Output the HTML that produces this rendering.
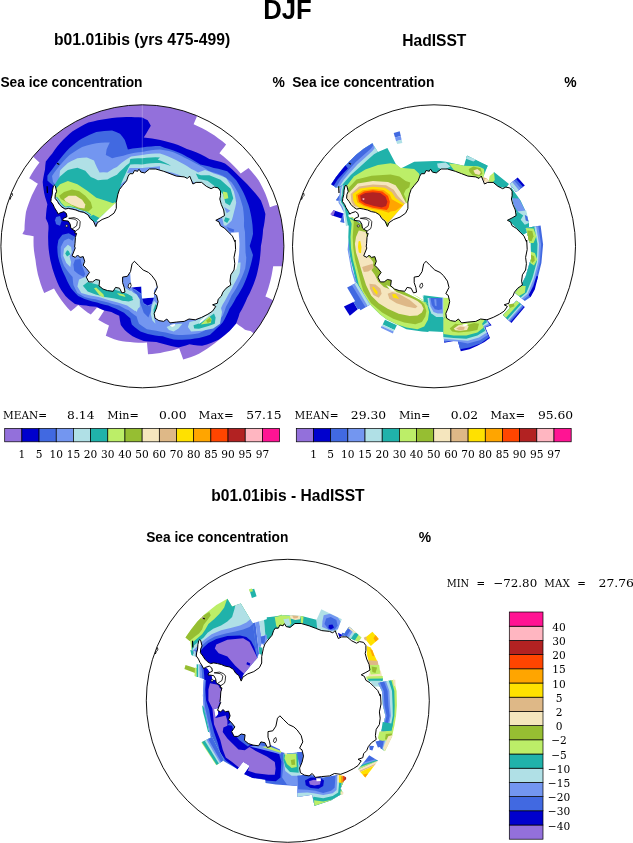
<!DOCTYPE html>
<html lang="en"><head><meta charset="utf-8"><title>DJF sea ice concentration</title>
<style>
html,body{margin:0;padding:0;background:#fff}
svg{display:block;will-change:transform}
text{fill:#000}
</style></head>
<body>
<svg width="633" height="843" viewBox="0 0 633 843">
<rect width="633" height="843" fill="#fff"/>
<clipPath id="clip0"><circle cx="142.4" cy="246.3" r="141.5"/></clipPath>
<clipPath id="clip1"><circle cx="434.0" cy="246.3" r="141.5"/></clipPath>
<clipPath id="clip2"><circle cx="287.8" cy="700.8" r="141.5"/></clipPath>
<g clip-path="url(#clip0)">
<path d="M34.0 157.6 L30.4 154.7 L26.9 151.8 L23.3 148.9 L19.7 145.9 L22.5 142.7 L25.3 139.5 L28.2 136.4 L31.2 133.4 L34.2 130.5 L37.3 127.6 L40.6 124.9 L43.8 122.2 L47.2 119.6 L50.6 117.1 L54.1 114.7 L57.6 112.4 L61.2 110.2 L64.9 108.1 L68.6 106.0 L72.4 104.1 L76.2 102.3 L80.1 100.6 L84.0 99.0 L88.0 97.5 L92.0 96.1 L96.0 94.8 L100.1 93.6 L104.2 92.5 L108.3 91.5 L112.4 90.7 L116.6 89.9 L120.8 89.3 L125.0 88.8 L129.2 88.4 L133.4 88.1 L137.7 87.9 L141.9 87.8 L146.1 87.9 L150.4 88.0 L154.6 88.3 L158.8 88.7 L163.0 89.2 L167.2 89.8 L171.4 90.5 L175.5 91.3 L179.7 92.3 L183.8 93.3 L187.8 94.5 L191.9 95.7 L195.9 97.1 L199.8 98.6 L203.8 100.2 L202.1 104.2 L200.4 108.2 L198.7 112.3 L197.0 116.3 L195.3 120.2 L193.6 124.2 L197.9 126.2 L202.2 128.3 L206.4 130.6 L210.5 133.0 L214.6 135.6 L218.5 138.4 L222.4 141.3 L226.1 144.4 L223.9 147.4 L221.6 150.3 L219.4 153.3 L223.3 156.3 L227.0 159.4 L230.6 162.7 L234.1 166.2 L237.5 169.8 L240.7 173.5 L244.6 170.7 L248.5 167.9 L251.2 170.9 L253.7 173.9 L256.2 177.1 L258.6 180.3 L260.4 183.6 L262.2 186.9 L263.8 190.3 L265.4 193.7 L267.1 198.2 L268.6 202.7 L269.9 207.2 L273.3 206.1 L276.6 205.0 L280.9 203.7 L285.2 202.3 L289.6 201.0 L293.9 199.7 L295.3 204.5 L296.5 209.3 L297.6 214.2 L298.5 219.1 L299.3 224.0 L299.9 229.0 L300.4 234.0 L300.7 238.9 L300.9 243.9 L300.9 248.9 L300.7 253.9 L300.4 258.9 L299.9 263.9 L299.3 268.8 L294.7 268.2 L290.1 267.5 L285.6 266.9 L281.0 266.2 L277.1 266.2 L273.2 266.2 L272.5 270.6 L271.7 275.0 L270.7 279.4 L269.6 283.7 L268.4 288.0 L267.0 292.3 L265.4 296.5 L268.8 298.1 L272.1 299.8 L276.3 301.5 L280.5 303.3 L284.7 305.0 L288.9 306.7 L287.2 310.7 L285.4 314.6 L283.5 318.5 L281.5 322.3 L279.3 326.1 L277.1 329.8 L274.8 333.4 L272.3 337.0 L269.8 340.5 L267.2 344.0 L263.9 341.4 L260.5 338.7 L257.2 336.1 L253.8 333.5 L250.5 330.9 L247.7 330.4 L245.0 329.8 L242.1 327.6 L239.1 325.4 L236.2 323.2 L234.0 325.8 L231.8 328.4 L229.5 330.9 L226.0 334.2 L222.3 337.3 L218.5 340.3 L214.8 343.3 L211.0 346.1 L207.1 348.8 L203.1 351.3 L199.0 353.7 L195.1 355.4 L191.2 356.9 L187.2 358.3 L183.2 359.5 L181.9 355.7 L180.5 352.0 L179.2 348.2 L175.5 349.4 L171.8 350.4 L168.0 351.3 L164.2 352.1 L160.2 352.9 L156.1 353.5 L152.1 354.0 L148.0 354.3 L147.7 350.4 L147.3 346.5 L147.0 342.6 L142.7 342.8 L138.5 342.7 L134.2 342.5 L130.0 342.1 L126.2 341.8 L122.3 341.3 L118.5 340.6 L114.2 339.2 L109.9 337.6 L105.8 335.8 L106.8 332.4 L107.9 329.0 L109.0 325.6 L105.3 323.8 L101.7 321.8 L98.2 319.7 L100.2 316.7 L102.3 313.6 L104.3 310.6 L100.7 309.1 L97.1 307.4 L94.0 311.0 L90.8 314.5 L87.5 312.4 L84.3 310.1 L81.2 307.6 L78.2 305.0 L74.5 308.2 L70.8 311.3 L67.6 307.9 L64.5 304.3 L61.6 300.5 L58.9 296.6 L56.3 292.6 L54.0 288.4 L50.7 289.9 L47.5 291.4 L44.2 292.9 L42.3 288.4 L40.6 283.8 L39.2 279.1 L37.9 274.4 L36.9 269.6 L36.1 264.8 L35.5 260.0 L34.7 255.4 L34.0 250.7 L33.6 246.0 L33.5 241.2 L33.6 236.3 L29.9 235.6 L26.1 234.9 L22.4 234.1 L24.5 230.0 L24.6 225.4 L24.9 220.9 L25.4 216.3 L26.0 211.7 L27.3 207.5 L28.7 203.4 L30.2 199.4 L31.9 195.3 L33.8 191.4 L35.8 187.5 L37.9 183.7 L35.0 181.9 L32.1 180.0 L29.2 178.2 L31.6 174.1 L34.1 170.1 L36.7 166.2 L39.5 162.4 L36.7 160.0Z" fill="#9370DB"/>
<path d="M60.0 143.2 L63.0 140.1 L66.1 137.1 L69.3 134.1 L72.6 131.3 L76.4 128.9 L80.3 126.7 L84.3 124.6 L88.4 122.6 L93.1 121.4 L97.9 120.3 L102.6 119.4 L107.4 118.7 L112.1 118.0 L116.9 117.5 L121.6 117.2 L126.4 117.1 L131.1 117.1 L134.8 117.2 L138.5 117.3 L142.2 117.6 L145.0 118.9 L147.7 120.3 L149.3 123.0 L150.8 125.8 L148.4 129.7 L146.1 133.7 L143.7 137.6 L147.9 138.0 L152.1 138.5 L156.2 139.2 L160.3 140.0 L164.4 141.0 L169.0 142.2 L173.6 143.6 L178.1 145.1 L182.6 146.9 L186.9 148.9 L191.5 150.5 L196.1 152.3 L200.6 154.3 L205.0 156.6 L209.3 159.0 L213.2 159.9 L217.1 160.9 L221.1 162.1 L225.0 163.4 L228.5 166.3 L232.0 169.3 L235.3 172.5 L238.5 175.8 L241.4 178.4 L244.2 181.2 L247.0 184.0 L249.7 187.0 L252.6 190.2 L255.5 193.5 L258.3 196.9 L260.9 200.5 L262.6 204.9 L264.1 209.4 L265.4 213.9 L265.0 217.9 L264.5 221.9 L263.9 225.8 L263.1 229.6 L262.8 233.8 L262.3 237.9 L261.7 242.0 L260.9 246.0 L260.7 250.5 L260.3 255.0 L259.8 259.5 L259.2 263.6 L258.4 267.6 L257.5 271.7 L256.5 275.7 L255.3 279.6 L253.6 284.2 L251.7 288.8 L249.7 293.2 L247.4 297.6 L245.7 301.6 L243.8 305.6 L241.8 309.5 L239.6 313.3 L238.6 316.7 L237.4 320.0 L236.2 323.4 L234.0 326.0 L231.8 328.5 L229.5 330.9 L225.9 334.0 L222.3 337.0 L218.5 339.8 L215.1 341.3 L211.6 342.7 L206.9 344.4 L202.1 345.8 L197.8 345.4 L193.6 344.9 L189.5 344.2 L185.9 345.4 L182.2 346.5 L178.5 347.4 L174.7 346.7 L171.0 345.9 L167.4 345.0 L163.6 344.1 L159.9 343.1 L156.3 341.9 L152.1 341.8 L147.9 341.6 L143.7 341.1 L139.9 339.6 L136.2 338.0 L132.6 336.3 L129.8 334.3 L127.2 332.2 L124.7 330.0 L122.7 327.5 L120.8 325.0 L119.9 320.4 L119.2 315.8 L115.2 314.0 L111.4 311.9 L107.9 311.3 L104.3 310.6 L100.3 308.8 L96.4 306.8 L93.0 306.6 L89.6 306.2 L86.1 305.6 L82.4 305.3 L78.7 304.7 L75.0 304.0 L71.7 301.5 L68.6 298.9 L65.5 296.1 L63.3 293.0 L61.2 289.9 L59.2 286.6 L57.6 283.1 L56.2 279.6 L54.9 276.0 L53.7 272.4 L52.4 268.5 L51.4 264.6 L50.4 260.6 L49.7 256.6 L49.1 252.7 L48.6 248.8 L48.3 244.8 L48.2 240.8 L48.1 236.9 L48.2 232.9 L48.5 229.0 L48.9 225.0 L47.3 221.8 L45.8 218.5 L46.1 213.8 L46.6 209.0 L47.4 204.2 L46.2 200.6 L45.1 197.0 L44.2 193.2 L43.6 189.6 L43.1 185.9 L42.7 182.1 L43.3 177.9 L44.1 173.7 L45.0 169.5 L45.3 165.6 L45.8 161.6 L47.8 158.9 L49.9 156.3 L52.1 153.7 L54.6 150.1 L57.2 146.6Z" fill="#0000CD"/>
<path d="M60.0 159.0 L63.0 155.2 L66.2 151.5 L69.5 147.9 L72.5 145.4 L75.6 143.0 L78.8 140.6 L82.1 138.4 L85.6 136.7 L89.1 135.0 L92.7 133.5 L96.3 132.1 L100.3 131.5 L104.2 131.0 L108.2 130.7 L112.1 130.5 L116.1 132.0 L120.0 133.7 L122.5 136.8 L124.8 140.0 L126.4 144.7 L127.9 149.5 L132.6 148.6 L137.4 147.9 L142.2 147.5 L146.6 146.8 L151.0 146.4 L155.5 146.1 L160.0 146.0 L164.4 147.7 L169.0 149.0 L173.5 150.5 L177.9 152.2 L181.0 153.6 L184.0 155.1 L186.9 156.7 L190.4 158.5 L193.8 160.4 L197.1 162.4 L200.3 164.6 L204.8 165.5 L209.3 166.6 L213.8 167.9 L218.2 168.8 L222.7 169.9 L227.2 171.3 L230.3 174.2 L233.3 177.2 L236.2 180.3 L238.6 183.9 L240.8 187.7 L242.9 191.5 L245.0 195.9 L246.8 200.4 L248.5 204.9 L249.6 208.8 L250.5 212.7 L251.3 216.7 L251.9 220.6 L252.5 225.1 L252.8 229.6 L253.0 234.1 L252.0 238.2 L250.9 242.1 L249.7 246.0 L251.4 250.4 L253.0 255.0 L252.1 259.5 L251.0 264.0 L249.7 268.4 L248.3 273.0 L246.7 277.6 L244.9 282.0 L242.9 286.4 L240.8 290.2 L238.6 294.0 L236.2 297.6 L234.1 301.4 L231.9 305.2 L229.5 308.8 L228.0 312.2 L226.4 315.6 L224.7 319.0 L222.8 322.3 L219.9 325.4 L216.9 328.3 L213.8 331.2 L211.9 333.0 L210.0 334.8 L206.3 336.0 L202.7 337.0 L199.0 337.9 L194.8 338.6 L190.6 339.2 L186.4 339.5 L182.1 339.7 L177.9 339.7 L173.7 339.5 L169.9 338.6 L166.3 337.5 L162.7 336.3 L158.9 336.0 L155.2 335.5 L151.6 334.8 L147.8 333.9 L144.1 332.8 L140.5 331.6 L137.4 329.3 L134.5 327.0 L131.8 324.5 L131.0 321.4 L130.3 318.2 L127.0 315.5 L124.0 312.7 L120.0 310.8 L116.1 308.7 L112.1 307.3 L108.2 305.6 L104.5 304.8 L100.8 303.7 L97.1 302.4 L92.4 301.4 L87.7 300.0 L84.5 298.9 L81.4 297.6 L78.2 296.1 L75.7 293.6 L73.4 291.0 L71.1 288.2 L69.0 284.6 L67.2 280.9 L65.5 277.1 L63.8 273.5 L62.2 269.9 L60.8 266.1 L59.3 261.4 L58.0 256.6 L57.5 251.9 L57.3 247.1 L57.8 243.5 L58.4 240.0 L60.4 237.3 L62.4 234.8 L65.5 233.9 L68.7 233.2 L71.8 235.1 L75.0 236.8 L76.4 232.7 L78.1 228.8 L80.0 225.0 L77.6 221.4 L75.4 217.6 L73.4 213.6 L71.6 209.4 L70.0 205.0 L66.4 201.9 L62.9 198.7 L59.4 195.4 L56.0 192.0 L54.4 188.7 L52.9 185.3 L50.1 183.0 L47.4 180.6 L47.4 175.8 L49.7 172.6 L52.1 169.5 L54.6 165.9 L57.2 162.4Z" fill="#4169E1"/>
<path d="M50.0 190.0 L56.0 192.0 L66.0 206.0 L76.0 222.0 L78.0 236.0 L72.0 233.0 L62.0 233.0 L56.0 240.0 L50.0 236.0 L47.0 215.0Z" fill="#0000CD"/>
<path d="M56.1 217.1 L60.0 216.0 L61.6 221.1 L60.0 225.8 L56.1 224.2 L55.0 220.3Z" fill="#4169E1"/>
<path d="M60.0 165.3 L63.0 161.8 L66.2 158.3 L69.5 155.0 L73.6 152.2 L77.8 149.5 L82.1 147.1 L86.8 145.6 L91.6 144.3 L96.3 143.2 L100.8 142.7 L105.3 142.5 L109.8 142.4 L108.1 145.9 L106.6 149.5 L106.2 152.3 L105.8 155.0 L109.0 156.5 L112.1 158.2 L115.8 157.2 L119.5 156.4 L123.2 155.8 L127.1 154.5 L131.1 153.4 L134.8 152.8 L138.5 152.3 L142.2 151.9 L146.5 151.0 L151.0 150.3 L155.4 149.8 L160.0 149.5 L164.5 150.2 L169.0 151.1 L173.4 152.2 L177.2 153.9 L181.0 155.8 L184.6 157.8 L188.4 159.5 L192.1 161.4 L195.8 163.4 L199.3 165.2 L202.7 167.1 L206.0 169.1 L209.3 171.3 L213.8 172.6 L218.3 174.1 L222.8 175.8 L225.8 177.9 L228.8 180.1 L231.7 182.5 L234.1 186.1 L236.4 189.9 L238.5 193.7 L240.2 198.2 L241.6 202.7 L242.9 207.2 L243.5 211.7 L243.9 216.2 L244.1 220.6 L243.9 225.2 L243.5 229.7 L242.9 234.1 L243.1 238.1 L243.1 242.0 L243.0 246.0 L244.2 249.6 L245.3 253.4 L246.3 257.2 L246.1 260.9 L245.7 264.7 L245.2 268.4 L243.8 272.5 L242.2 276.4 L240.4 280.3 L238.5 284.1 L236.4 287.9 L234.1 291.7 L231.7 295.3 L230.0 299.1 L228.1 302.9 L226.1 306.6 L224.6 311.1 L222.8 315.5 L220.6 318.6 L218.4 321.6 L216.0 324.5 L211.6 326.9 L207.1 329.0 L203.1 331.2 L199.0 333.2 L194.8 333.9 L190.6 334.5 L186.4 334.8 L182.7 335.0 L179.0 335.0 L175.3 334.8 L170.5 333.7 L165.8 332.4 L161.0 331.7 L156.3 330.8 L151.5 330.1 L146.9 329.2 L142.8 326.5 L139.0 323.7 L137.7 320.2 L136.6 316.6 L133.8 314.6 L131.2 312.5 L128.7 310.3 L125.4 308.9 L122.3 307.3 L119.2 305.6 L115.5 304.8 L111.8 303.7 L108.2 302.4 L104.0 301.6 L99.8 300.6 L95.6 299.2 L91.9 298.7 L88.2 297.9 L84.5 296.9 L80.9 295.0 L77.4 292.9 L75.3 289.0 L73.4 285.0 L72.9 281.0 L72.6 277.1 L70.6 274.8 L68.7 272.4 L66.3 269.3 L64.0 266.1 L62.8 263.0 L61.7 259.8 L60.8 256.6 L60.7 251.8 L60.8 247.1 L62.3 243.9 L64.0 240.8 L66.3 239.6 L68.7 238.4 L72.6 240.8 L74.8 237.2 L77.1 233.8 L79.6 230.6 L82.2 227.7 L85.0 225.0 L82.6 221.4 L80.4 217.6 L78.3 213.6 L76.6 209.4 L75.0 205.0 L71.9 202.1 L68.8 199.2 L65.8 196.2 L62.9 193.1 L60.0 190.0 L57.6 187.4 L55.3 184.7 L53.0 182.0 L52.5 179.0 L52.0 176.0 L54.5 172.3 L57.2 168.8Z" fill="#7396F0"/>
<path d="M75.0 259.8 L80.5 259.0 L82.1 266.1 L85.3 274.0 L83.7 277.1 L78.2 274.0 L74.2 270.8 L73.4 264.5Z" fill="#4169E1"/>
<path d="M131.8 288.2 L135.8 290.5 L141.3 294.5 L142.1 299.2 L143.7 304.0 L148.4 306.0 L151.6 304.4 L150.8 311.1 L148.4 317.4 L143.7 312.7 L139.7 301.6 L137.4 295.3 L133.4 291.3Z" fill="#4169E1"/>
<path d="M142.1 298.4 L154.0 297.6 L151.6 304.0 L147.6 305.5 L143.7 303.2Z" fill="#0000CD"/>
<path d="M131.1 287.4 L141.3 286.6 L141.3 293.7 L135.8 289.7Z" fill="#0000CD"/>
<path d="M60.0 170.8 L62.5 168.1 L65.2 165.4 L67.9 162.9 L71.0 161.2 L74.2 159.7 L77.4 158.2 L82.2 157.7 L86.9 157.4 L90.5 158.9 L94.0 160.6 L95.5 164.2 L97.1 167.7 L98.3 170.1 L99.5 172.4 L103.5 172.3 L107.4 172.4 L110.5 170.4 L113.6 168.6 L116.9 166.9 L119.4 164.7 L122.0 162.6 L124.8 160.6 L127.9 158.5 L131.1 156.6 L134.8 155.9 L138.5 155.4 L142.2 155.0 L146.6 154.3 L151.0 153.8 L155.5 153.5 L160.0 153.4 L164.5 154.9 L168.9 156.7 L172.7 158.4 L176.5 160.3 L180.1 162.3 L183.9 164.3 L187.7 166.5 L191.3 168.9 L194.7 170.6 L198.1 172.5 L201.5 171.2 L205.0 170.0 L209.4 171.6 L213.8 173.5 L217.9 174.8 L222.0 176.3 L226.1 178.0 L228.2 181.3 L230.3 184.6 L232.1 188.0 L233.9 191.5 L234.8 195.2 L235.6 199.0 L236.2 202.7 L235.2 207.4 L234.0 212.0 L232.9 216.4 L231.7 220.6 L232.4 225.1 L232.8 229.6 L234.6 232.9 L236.2 236.3 L237.4 239.5 L238.6 242.7 L239.6 246.0 L240.2 250.5 L240.5 255.0 L240.7 259.5 L240.5 264.0 L240.2 268.5 L239.6 273.0 L237.9 276.8 L236.0 280.5 L234.0 284.1 L232.3 287.5 L230.4 290.9 L228.4 294.2 L226.7 297.6 L224.8 301.0 L222.8 304.3 L221.4 307.3 L219.9 310.3 L218.3 313.3 L217.2 316.7 L216.0 320.0 L214.0 315.8 L211.9 311.8 L209.7 307.8 L207.4 303.8 L205.0 300.0 L207.2 295.9 L209.2 291.7 L210.9 287.4 L212.3 283.1 L213.5 278.7 L214.4 274.4 L215.0 270.0 L217.1 266.1 L219.0 262.1 L220.7 257.9 L222.1 253.6 L223.3 249.2 L224.3 244.6 L225.0 240.0 L224.9 235.5 L224.5 230.9 L223.9 226.4 L223.1 221.8 L221.9 217.3 L220.6 212.9 L219.0 208.5 L217.1 204.2 L215.0 200.0 L211.9 196.5 L208.5 193.2 L205.1 190.1 L201.5 187.2 L197.8 184.6 L193.9 182.2 L190.0 180.0 L185.8 177.8 L181.5 175.9 L177.1 174.2 L172.6 172.8 L168.1 171.7 L163.6 170.9 L159.0 170.3 L154.5 170.0 L150.0 170.0 L145.0 171.3 L140.3 172.9 L135.7 174.8 L131.4 177.0 L127.3 179.5 L123.5 182.1 L120.0 185.0 L117.3 189.2 L115.0 193.5 L113.1 197.9 L111.7 202.2 L110.7 206.6 L110.1 210.8 L110.0 215.0 L106.1 214.2 L102.1 213.8 L97.9 213.6 L93.7 213.8 L89.4 214.2 L85.0 215.0 L81.3 212.3 L77.6 209.6 L74.0 206.8 L70.5 203.9 L66.9 201.0 L63.4 198.0 L60.0 195.0 L59.5 190.3 L59.3 185.6 L59.3 180.7 L59.5 175.8Z" fill="#B0E0E6"/>
<path d="M67.9 244.7 L64.0 248.7 L63.2 255.8 L66.3 262.9 L70.3 266.9 L71.1 262.1 L69.5 256.6 L71.9 251.9 L71.1 247.1Z" fill="#B0E0E6"/>
<path d="M85.3 277.1 L79.0 279.5 L77.4 286.6 L81.3 292.9 L89.2 295.3 L98.7 296.9 L108.2 300.0 L117.7 302.4 L127.1 305.6 L135.0 311.1 L139.8 307.1 L139.8 299.2 L136.6 294.5 L131.1 291.4 L120.0 285.0 L100.0 280.0Z" fill="#B0E0E6"/>
<path d="M120.0 301.6 L126.3 304.0 L132.6 307.1 L136.6 311.9 L138.2 307.9 L137.4 301.6 L135.0 295.3 L131.1 290.5 L127.1 292.1 L118.0 292.0Z" fill="#B0E0E6"/>
<path d="M154.0 300.8 L157.1 304.0 L156.3 311.1 L154.0 317.4 L155.5 323.7 L152.4 320.6 L150.8 314.2 L151.6 306.3Z" fill="#B0E0E6"/>
<path d="M166.6 326.9 L172.1 324.5 L182.4 323.7 L178.5 328.5 L173.7 331.6 L169.0 330.0Z" fill="#B0E0E6"/>
<path d="M189.5 322.1 L195.8 320.6 L205.3 315.8 L214.8 309.5 L220.0 304.0 L222.0 312.0 L220.0 323.7 L213.2 328.5 L202.1 330.8 L191.1 331.6 L187.9 326.9Z" fill="#B0E0E6"/>
<path d="M60.0 176.4 L62.6 174.2 L65.2 172.0 L67.9 170.0 L72.7 168.7 L77.4 167.7 L81.4 169.2 L85.3 170.8 L88.1 173.9 L90.8 177.1 L94.4 178.6 L97.9 180.3 L102.7 179.7 L107.4 179.5 L110.5 177.8 L113.7 176.2 L116.9 174.8 L119.9 171.6 L123.2 168.5 L126.2 165.6 L129.5 162.9 L130.3 159.0 L134.3 158.6 L138.2 158.3 L142.2 158.2 L146.6 157.7 L151.0 157.4 L155.5 157.3 L160.0 157.4 L157.7 159.6 L161.5 161.1 L165.3 162.8 L168.9 164.6 L171.0 166.0 L167.4 164.8 L163.7 163.8 L160.0 163.0 L155.5 163.0 L151.0 163.3 L146.5 163.8 L142.2 164.5 L138.2 164.3 L134.3 164.3 L130.3 164.5 L128.3 168.0 L126.6 171.5 L125.0 175.0 L123.1 179.1 L121.4 183.3 L120.1 187.5 L119.1 191.7 L118.4 195.9 L118.0 200.0 L116.4 204.5 L115.3 209.1 L114.7 213.5 L114.6 217.8 L115.0 222.0 L111.2 221.3 L107.3 221.0 L103.3 221.0 L99.2 221.3 L95.0 222.0 L91.0 219.7 L87.1 217.3 L83.2 215.0 L79.2 212.6 L75.4 210.1 L71.5 207.6 L67.6 205.1 L63.8 202.6 L60.0 200.0 L58.3 196.6 L56.8 193.2 L55.3 189.6 L54.0 186.0 L55.9 182.7 L57.9 179.5Z" fill="#20B2AA"/>
<path d="M195.8 173.5 L200.8 175.3 L209.3 175.3 L220.5 179.8 L230.6 188.8 L233.3 198.2 L229.9 205.4 L225.4 203.1 L223.2 194.2 L216.5 187.4 L207.5 180.7 L198.5 178.9Z" fill="#20B2AA"/>
<path d="M222.8 191.5 L227.2 192.6 L228.4 198.2 L223.9 199.3Z" fill="#BCEE68"/>
<path d="M225.4 217.3 L229.9 218.8 L227.2 222.9 L223.9 221.1Z" fill="#20B2AA"/>
<path d="M67.1 250.3 L65.2 253.4 L67.1 256.6 L70.3 254.2 L68.7 251.1Z" fill="#20B2AA"/>
<path d="M87.7 281.9 L82.9 285.8 L87.7 291.4 L95.6 294.5 L105.0 296.9 L114.5 298.5 L124.0 300.8 L131.1 300.0 L132.7 296.9 L127.1 293.7 L110.0 288.0Z" fill="#20B2AA"/>
<path d="M120.0 295.3 L126.3 293.7 L131.1 296.1 L133.4 300.0 L128.7 301.6 L123.2 300.8 L120.0 300.0Z" fill="#20B2AA"/>
<path d="M155.5 304.0 L157.6 306.3 L156.3 312.7 L154.0 315.8 L153.5 309.5Z" fill="#20B2AA"/>
<path d="M193.5 325.3 L200.6 322.9 L208.5 317.4 L214.0 313.4 L215.6 317.4 L214.8 323.7 L208.5 326.1 L199.0 328.8 L194.2 328.5Z" fill="#20B2AA"/>
<path d="M56.1 188.7 L60.0 184.3 L67.9 181.1 L77.4 184.3 L86.9 190.6 L96.3 197.7 L105.8 200.8 L112.9 203.2 L115.3 202.1 L115.3 205.3 L109.0 210.0 L102.7 214.8 L99.5 217.9 L93.2 214.8 L90.0 216.5 L83.9 212.4 L79.7 211.6 L75.9 210.0 L72.1 209.1 L68.3 208.4 L65.1 209.1 L62.0 207.2 L59.4 204.6 L57.5 201.5 L55.0 198.3 L55.3 194.5 L56.6 191.4Z" fill="#BCEE68"/>
<path d="M90.0 216.5 L83.9 212.4 L79.7 211.6 L75.9 210.0 L72.1 209.1 L68.3 208.4 L65.1 209.1 L62.0 207.2 L59.4 204.6 L57.5 201.5 L55.0 198.3 L56.9 196.8 L59.5 200.1 L61.3 203.1 L63.5 205.3 L65.5 206.7 L68.3 206.0 L72.6 206.8 L76.6 207.7 L80.4 209.3 L84.9 210.2 L91.3 214.5Z" fill="#20B2AA"/>
<path d="M90.0 216.5 L83.9 212.4 L79.7 211.6 L75.9 210.0 L72.1 209.1 L68.3 208.4 L65.1 209.1 L62.0 207.2 L59.4 204.6 L57.5 201.5 L55.0 198.3 L56.3 197.3 L58.8 200.6 L60.7 203.6 L63.0 205.9 L65.4 207.5 L68.3 206.8 L72.4 207.5 L76.4 208.5 L80.2 210.1 L84.6 211.0 L90.9 215.2Z" fill="#B0E0E6"/>
<path d="M90.0 216.5 L83.9 212.4 L79.7 211.6 L75.9 210.0 L72.1 209.1 L68.3 208.4 L65.1 209.1 L62.0 207.2 L59.4 204.6 L57.5 201.5 L55.0 198.3 L55.6 197.8 L58.2 201.0 L60.0 204.1 L62.5 206.6 L65.2 208.3 L68.3 207.6 L72.3 208.3 L76.1 209.2 L79.9 210.8 L84.2 211.7 L90.4 215.8Z" fill="#4169E1"/>
<path d="M59.2 195.8 L64.0 191.9 L71.9 189.5 L79.0 191.1 L85.3 195.8 L90.8 202.1 L92.4 207.7 L88.5 211.6 L83.7 210.8 L75.8 207.7 L66.3 202.1 L60.8 199.0Z" fill="#96BE32"/>
<path d="M64.0 199.0 L68.7 195.8 L75.8 195.8 L82.1 199.8 L85.3 204.5 L84.5 208.5 L79.0 207.7 L71.1 204.5 L65.5 201.3Z" fill="#F5E6BE"/>
<path d="M94.0 288.2 L96.3 287.4 L103.5 294.5 L104.2 297.7 L99.5 295.3Z" fill="#BCEE68"/>
<path d="M116.9 292.9 L124.0 294.5 L125.6 296.9 L119.2 295.3Z" fill="#BCEE68"/>
<path d="M200.6 324.5 L209.3 316.6 L211.6 319.0 L210.8 322.9 L206.1 323.7Z" fill="#BCEE68"/>
<path d="M206.1 320.6 L210.0 317.4 L211.3 321.3 L207.7 322.9Z" fill="#96BE32"/>
<path d="M233.6 218.9 L226.0 225.8 L221.6 225.2 L227.9 232.1 L234.2 238.5 L235.5 262.5 L243.7 262.5 L245.6 254.9 L245.0 232.1 L242.4 218.2Z" fill="#7396F0"/>
<path d="M226.7 227.1 L234.2 229.6 L233.6 232.4 L229.2 231.1Z" fill="#4169E1"/>
<path d="M224.1 206.9 L230.4 210.7 L226.7 213.2Z" fill="#7396F0"/>
<path d="M231.0 232.8 L238.7 232.2 L239.5 243.7 L239.1 253.2 L238.3 261.1 L236.3 269.0 L233.0 272.0 L231.0 250.0Z" fill="#fff"/>
<path d="M129.5 167.9 L142.2 167.9 L160.0 166.3 L160.0 171.0 L142.0 172.0 L127.0 173.0Z" fill="#7396F0"/>
<path d="M117.0 201.5 L100.0 217.5 L96.5 221.0 L110.0 225.0 L122.0 215.0Z" fill="#fff"/>
<path d="M131.1 287.4 L141.3 286.6 L142.1 298.4 L154.0 297.6 L154.0 290.5 L158.0 285.0 L150.0 262.0 L129.5 262.0Z" fill="#fff"/>
<path d="M199.0 324.0 L209.3 315.0 L205.3 316.4 L200.6 320.6Z" fill="#fff"/>
<path d="M169.8 325.3 L175.3 323.7 L174.5 326.1 L172.1 326.9Z" fill="#fff"/>
<path d="M138.4 169.7 L137.7 171.3 L134.5 170.5 L132.9 173.7 L129.8 173.7 L128.2 176.1 L126.6 180.8 L122.6 185.5 L119.5 189.5 L117.9 194.2 L116.3 202.1 L116.3 208.5 L114.0 213.2 L108.4 217.1 L102.1 219.5 L97.4 222.7 L95.8 226.6 L93.4 221.1 L90.3 218.7 L87.9 214.8 L83.9 212.4 L79.7 211.6 L75.9 210.0 L72.1 209.1 L68.3 208.4 L65.1 209.1 L62.0 207.2 L59.4 204.6 L57.5 201.5 L55.0 198.3 L55.3 194.5 L56.6 191.4 L55.3 186.0 L54.4 185.2 L53.4 186.0 L52.5 190.1 L52.2 194.5 L51.2 198.3 L50.9 201.5 L53.1 204.6 L54.5 207.8 L56.9 211.6 L58.2 214.1 L60.1 212.9 L63.9 211.6 L66.4 213.5 L67.0 216.7 L63.2 218.5 L62.6 220.4 L68.3 221.1 L70.2 224.2 L70.8 228.0 L71.9 229.1 L75.4 231.1 L74.6 233.0 L76.6 233.4 L75.4 237.4 L75.0 243.7 L74.6 247.0 L75.3 247.9 L72.1 255.8 L75.3 257.4 L77.6 255.0 L80.0 257.4 L83.2 256.6 L84.7 261.3 L83.2 265.3 L86.3 268.4 L89.5 272.4 L86.3 277.1 L88.7 281.9 L92.6 281.9 L95.8 279.5 L99.7 280.3 L99.0 285.8 L102.9 289.0 L107.6 290.6 L113.2 291.3 L115.5 287.4 L119.5 288.2 L121.9 292.9 L125.0 292.1 L124.2 287.4 L122.6 282.7 L122.6 277.1 L127.4 276.3 L130.5 271.6 L132.1 263.7 L134.5 261.3 L138.4 265.3 L143.2 270.0 L148.4 272.4 L151.8 275.5 L155.8 281.1 L157.4 287.4 L154.2 293.7 L156.6 295.3 L158.1 301.6 L156.6 307.9 L154.2 313.5 L155.0 318.2 L158.9 320.6 L163.7 321.4 L166.8 319.0 L170.0 322.9 L176.3 322.1 L184.2 321.4 L189.0 319.0 L195.3 319.8 L201.6 317.4 L207.9 314.2 L212.6 311.1 L215.8 306.4 L212.6 304.8 L217.4 303.2 L218.2 299.2 L221.3 296.1 L222.9 292.1 L226.1 288.2 L230.8 285.0 L230.0 281.1 L230.8 274.8 L234.0 270.0 L234.8 263.7 L234.0 257.4 L235.6 249.5 L235.1 240.0 L234.8 241.6 L232.4 236.1 L228.4 232.1 L224.5 228.2 L220.5 225.8 L219.0 221.9 L215.8 220.3 L220.5 217.9 L224.5 215.6 L223.7 210.0 L221.3 204.5 L219.8 199.0 L220.5 195.8 L220.5 191.1 L218.2 187.9 L214.2 187.1 L211.1 188.7 L206.3 186.3 L201.6 182.4 L196.1 182.4 L192.9 184.0 L191.3 180.0 L189.7 176.1 L187.4 178.4 L184.2 176.9 L176.3 176.1 L170.0 173.7 L163.7 171.3 L155.8 169.0 L149.5 169.0 L144.7 172.9 L140.8 172.1 L139.2 169.3Z" fill="#fff" stroke="#000" stroke-width="1.0" stroke-linejoin="round"/>
<path d="M128.7 284.2 L130.5 283.0 L131.2 285.8 L129.6 288.3 L128.0 287.1Z" fill="#fff" stroke="#000" stroke-width="0.8" stroke-linejoin="round"/>
<path d="M71.9 229.1 L76.6 225.9 L77.4 221.6 L75.0 219.2 L68.7 218.3 L74.2 217.6 L78.2 219.2 L80.2 221.6 L79.8 226.3 L79.0 228.7 L75.4 231.1" fill="none" stroke="#000" stroke-width="0.8"/>
<circle cx="66.7" cy="225.9" r="1.1" fill="#fff" stroke="#000" stroke-width="0.7"/>
<line x1="142.3" y1="105" x2="142.3" y2="168" stroke="#fff" stroke-opacity="0.4" stroke-width="0.6"/>
<path d="M57 163.2 L59.3 164.6" stroke="#000" stroke-width="1.2" fill="none"/>
<path d="M47.1 186.3 L47.4 193" stroke="#000" stroke-width="1.2" fill="none"/>
<path d="M9.8 196.3 l2.2 -3.2 l0.6 2.2 l-1.6 1.6 l-1 2.6z" fill="#fff" stroke="#000" stroke-width="0.8"/>
</g>
<g clip-path="url(#clip1)">
<path d="M336.1 187.7 L331.3 184.2 L336.1 177.1 L341.6 170.0 L348.7 162.1 L355.8 155.0 L363.7 148.7 L372.4 143.2 L377.9 151.9 L387.4 147.9 L396.1 164.5 L400.8 168.5 L414.2 161.8 L434.8 161.1 L440.0 161.1 L445.8 161.8 L464.0 165.8 L467.1 155.5 L487.7 165.8 L484.5 173.7 L482.9 177.6 L480.0 200.0 L434.0 246.0 L400.0 232.0 L387.4 226.6 L381.9 218.7 L375.5 212.4 L371.3 211.6 L367.5 210.0 L363.7 209.1 L359.9 208.4 L356.7 209.1 L353.6 207.2 L351.0 204.6 L349.1 201.5 L346.6 198.3 L346.9 194.5 L348.2 191.4 L346.9 186.0 L346.0 185.2 L344.0 187.1Z" fill="#20B2AA"/>
<path d="M336.1 187.7 L331.3 184.2 L336.1 177.1 L341.6 170.0 L348.7 162.1 L355.8 155.0 L363.7 148.7 L372.4 143.2 L377.9 151.9 L374.0 154.2 L366.9 160.6 L359.0 167.7 L351.1 174.8 L345.5 181.1 L341.6 185.8Z" fill="#B0E0E6"/>
<path d="M336.1 187.7 L331.3 184.2 L336.1 177.1 L341.6 170.0 L348.7 162.1 L355.8 155.0 L363.7 148.7 L372.4 143.2 L374.8 147.9 L372.4 151.1 L365.3 157.4 L357.4 164.5 L349.5 173.2 L344.0 179.5 L340.0 185.8Z" fill="#7396F0"/>
<path d="M336.1 187.7 L331.3 184.2 L336.1 177.1 L341.6 170.0 L348.7 162.1 L355.8 155.0 L363.7 148.7 L372.4 143.2 L373.2 145.5 L370.8 148.7 L363.7 155.0 L355.8 162.1 L347.9 170.8 L340.8 179.5 L336.1 187.4Z" fill="#4169E1"/>
<path d="M331.3 184.2 L336.1 177.1 L341.6 170.0 L345.5 165.3 L347.9 168.5 L344.0 172.4 L337.6 179.5 L333.7 185.8Z" fill="#0000CD"/>
<path d="M393.7 132.9 L399.7 131.3 L400.8 136.1 L395.0 137.6Z" fill="#4169E1"/>
<path d="M395.0 137.6 L400.8 136.1 L401.6 139.7 L396.1 141.3Z" fill="#7396F0"/>
<path d="M396.1 141.3 L401.6 139.7 L402.4 142.9 L397.2 144.1Z" fill="#B0E0E6"/>
<path d="M345.7 187.2 L353.9 176.4 L365.3 169.5 L377.9 165.1 L390.6 163.2 L396.0 164.2 L400.4 167.8 L414.2 169.0 L419.0 173.6 L420.0 177.1 L470.0 260.0 L400.0 232.0 L387.4 226.6 L381.9 218.7 L375.5 212.4 L371.3 211.6 L367.5 210.0 L363.7 209.1 L359.9 208.4 L356.7 209.1 L353.6 207.2 L351.0 204.6 L349.1 201.5 L346.6 198.3 L346.9 194.5 L348.2 191.4 L346.9 186.0 L346.0 185.2Z" fill="#BCEE68"/>
<path d="M347.6 189.1 L356.4 179.6 L371.6 175.8 L390.6 174.5 L399.4 176.4 L405.7 180.9 L410.3 182.5 L409.3 187.2 L405.7 189.7 L403.8 194.1 L405.7 197.9 L406.4 202.3 L400.0 232.0 L387.4 226.6 L381.9 218.7 L375.5 212.4 L371.3 211.6 L367.5 210.0 L363.7 209.1 L359.9 208.4 L356.7 209.1 L353.6 207.2 L351.0 204.6 L349.1 201.5 L346.6 198.3 L346.9 194.5 L348.2 191.4 L346.9 186.0 L346.0 185.2Z" fill="#96BE32"/>
<path d="M348.8 192.9 L357.7 183.4 L372.9 180.9 L388.0 182.1 L395.6 185.3 L400.0 191.6 L403.2 197.9 L406.0 202.7 L388.7 223.2 L381.9 218.7 L375.5 212.4 L371.3 211.6 L367.5 210.0 L363.7 209.1 L359.9 208.4 L356.7 209.1 L353.6 207.2 L351.0 204.6 L349.1 201.5 L346.6 198.3 L346.9 194.5 L348.2 191.4 L346.9 186.0 L346.0 185.2Z" fill="#F5E6BE"/>
<path d="M350.7 194.1 L359.0 186.5 L372.9 184.6 L386.1 185.3 L393.7 189.7 L397.5 195.4 L403.2 201.7 L405.2 203.7 L388.7 222.8 L384.2 219.4 L379.2 214.3 L371.6 210.6 L359.0 207.4 L353.9 206.1 L351.4 201.7Z" fill="#DEB887"/>
<path d="M352.6 194.1 L360.2 188.4 L372.9 186.8 L384.9 187.8 L391.8 192.2 L395.6 197.9 L403.2 203.6 L404.5 204.5 L388.0 222.2 L384.2 219.4 L379.2 214.3 L371.6 210.6 L359.0 207.4 L355.2 204.2 L353.3 200.4Z" fill="#FFE100"/>
<path d="M355.8 194.8 L362.7 190.3 L372.9 189.1 L383.6 190.1 L389.9 194.8 L391.8 199.2 L399.4 203.6 L403.2 205.2 L395.6 210.8 L390.6 211.6 L388.7 212.8 L381.7 210.6 L371.6 208.7 L363.4 206.1 L357.1 202.3Z" fill="#FFA500"/>
<path d="M357.7 195.4 L364.0 191.6 L372.9 190.3 L382.3 191.6 L388.0 196.0 L389.9 201.7 L388.7 207.4 L386.8 209.9 L381.7 209.3 L372.9 207.8 L364.6 205.2 L359.0 201.7Z" fill="#FF4500"/>
<path d="M360.2 195.4 L365.3 192.9 L372.9 192.2 L380.4 193.1 L385.5 196.7 L387.4 201.7 L386.1 206.1 L381.7 207.4 L374.1 206.1 L365.3 203.6 L360.9 200.4Z" fill="#B22222"/>
<path d="M362.7 197.9 L364.6 198.5 L364.0 200.2 L362.5 199.4Z" fill="#FFB6C1"/>
<path d="M405.2 203.3 L388.4 222.9 L389.9 224.7 L396.9 220.0 L405.7 215.0 L408.9 203.0Z" fill="#fff"/>
<path d="M345.0 186.0 L344.1 190.1 L343.8 194.5 L342.8 198.3 L342.5 201.5 L344.7 204.6 L346.1 207.8 L348.5 211.6 L349.8 214.1 L346.1 216.0 L344.9 213.7 L342.4 209.8 L341.1 206.7 L338.5 202.7 L338.7 197.5 L339.7 193.8 L339.9 189.5 L340.9 185.1Z" fill="#7396F0"/>
<path d="M345.0 186.0 L344.1 190.1 L343.8 194.5 L342.8 198.3 L342.5 201.5 L344.7 204.6 L346.1 207.8 L348.5 211.6 L349.8 214.1 L347.1 215.5 L345.9 213.1 L343.5 209.2 L342.1 206.1 L339.6 202.4 L339.9 197.8 L340.8 194.0 L341.1 189.7 L342.1 185.4Z" fill="#B0E0E6"/>
<path d="M345.0 186.0 L344.1 190.1 L343.8 194.5 L342.8 198.3 L342.5 201.5 L344.7 204.6 L346.1 207.8 L348.5 211.6 L349.8 214.1 L348.4 214.8 L347.1 212.4 L344.7 208.6 L343.3 205.4 L341.0 202.0 L341.2 198.0 L342.2 194.2 L342.5 189.9 L343.4 185.7Z" fill="#20B2AA"/>
<path d="M340.3 194.0 L335.9 200.3 L341.0 201.0Z" fill="#7396F0"/>
<path d="M339.3 195.3 L335.9 200.3 L338.4 200.7Z" fill="#4169E1"/>
<path d="M333.4 210.2 L343.5 213.6 L342.2 218.7 L331.5 215.2Z" fill="#0000CD"/>
<path d="M333.4 210.2 L335.3 210.8 L333.4 215.8 L330.2 214.2Z" fill="#9370DB"/>
<path d="M343.1 213.0 L344.4 223.1 L340.1 222.1 L341.6 218.0Z" fill="#4169E1"/>
<path d="M423.5 295.2 L443.4 297.8 L443.4 331.9 L429.2 331.2 L423.5 329.1Z" fill="#20B2AA"/>
<path d="M343.1 207.9 L345.1 207.3 L347.9 225.6 L346.0 226.2Z" fill="#B0E0E6"/>
<path d="M344.8 207.7 L346.9 207.9 L350.4 225.6 L347.9 225.6Z" fill="#20B2AA"/>
<path d="M346.5 216.0 L348.8 223.8 L348.3 237.1 L348.8 248.2 L350.5 259.2 L353.3 270.3 L356.6 285.0 L364.4 295.4 L371.1 305.4 L379.9 314.2 L386.5 319.2 L396.5 324.2 L406.4 329.3 L422.1 331.6 L428.5 331.9 L430.8 319.0 L428.5 306.4 L422.1 295.3 L430.0 305.0 L400.0 290.0 L383.0 270.0 L375.0 252.0 L372.0 240.0 L368.0 228.0 L356.1 220.6 L351.7 218.0Z" fill="#20B2AA"/>
<path d="M347.6 249.5 L348.7 240.0 L349.8 255.8 L352.6 270.0 L356.6 281.9 L355.0 282.7 L351.4 270.8 L348.7 255.8Z" fill="#7396F0"/>
<path d="M348.5 218.0 L351.7 216.8 L356.1 219.3 L349.0 217.0 L351.6 223.8 L350.5 237.1 L351.0 248.2 L352.7 259.2 L355.5 270.3 L358.8 285.0 L364.4 295.4 L371.1 305.4 L379.9 314.2 L386.5 319.2 L396.5 324.2 L406.5 327.5 L417.5 329.2 L424.2 326.4 L428.0 319.8 L429.1 312.0 L427.5 305.4 L423.1 299.9 L417.5 296.5 L412.0 293.8 L430.0 305.0 L400.0 290.0 L383.0 270.0 L375.0 252.0 L372.0 240.0 L368.0 228.0Z" fill="#BCEE68"/>
<path d="M351.7 218.7 L354.2 218.0 L356.8 220.6 L351.5 217.0 L353.8 221.6 L352.7 237.1 L353.3 248.2 L354.9 259.2 L357.7 270.3 L361.5 285.0 L363.3 291.0 L371.1 303.2 L382.1 312.6 L393.2 318.7 L404.2 322.5 L415.3 324.2 L421.9 322.0 L425.3 316.5 L426.4 310.9 L424.2 304.3 L419.7 299.9 L413.1 296.5 L430.0 305.0 L400.0 290.0 L383.0 270.0 L375.0 252.0 L372.0 240.0 L368.0 228.0Z" fill="#96BE32"/>
<path d="M358.8 230.5 L356.0 237.1 L354.9 243.8 L356.0 252.6 L358.2 259.2 L360.4 267.0 L362.7 274.7 L366.0 285.0 L371.1 295.4 L378.8 303.2 L387.7 308.7 L398.7 313.7 L409.8 315.9 L417.5 315.4 L421.9 312.6 L423.6 308.7 L421.4 304.3 L417.5 301.0 L412.0 298.2 L406.5 296.0 L399.8 293.2 L396.5 292.1 L392.0 288.0 L384.0 280.0 L378.0 268.0 L370.0 258.0 L368.0 245.0 L366.0 232.0Z" fill="#F5E6BE"/>
<path d="M368.2 257.0 L373.7 259.2 L373.2 263.7 L371.5 270.3 L374.8 274.7 L378.1 281.4 L384.0 287.0 L392.0 290.0 L392.0 284.0 L384.0 278.0 L378.0 268.0 L376.0 258.0 L370.0 252.0Z" fill="#96BE32"/>
<path d="M362.1 267.0 L372.6 263.7 L373.7 268.1 L368.2 271.4 L363.8 272.0Z" fill="#DEB887"/>
<path d="M369.4 283.8 L375.5 284.4 L380.5 288.8 L381.6 293.8 L378.8 297.7 L373.3 294.9 L370.0 288.8Z" fill="#DEB887"/>
<path d="M387.7 293.8 L392.1 292.1 L398.7 293.8 L409.8 299.9 L417.5 306.5 L415.3 308.2 L406.5 306.5 L396.5 303.2 L389.3 298.8Z" fill="#DEB887"/>
<path d="M358.5 241.5 L360.2 240.7 L361.5 247.1 L361.0 253.2 L358.8 252.6 L358.0 247.1Z" fill="#FFE100"/>
<path d="M372.2 287.1 L373.8 287.1 L377.7 292.1 L377.1 294.9 L373.8 291.6Z" fill="#FFE100"/>
<path d="M392.1 294.3 L395.4 294.1 L399.3 299.0 L393.2 297.7Z" fill="#FFE100"/>
<path d="M347.1 287.4 L356.6 282.7 L370.0 304.8 L360.5 310.3Z" fill="#4169E1"/>
<path d="M351.8 285.0 L356.6 282.7 L370.0 304.8 L365.3 307.1Z" fill="#7396F0"/>
<path d="M354.5 283.8 L356.6 282.7 L370.0 304.8 L367.6 306.0Z" fill="#B0E0E6"/>
<path d="M343.9 306.4 L353.4 301.9 L357.7 309.2 L349.8 315.8Z" fill="#0000CD"/>
<path d="M353.4 301.9 L356.6 300.5 L361.3 308.2 L357.7 309.2Z" fill="#4169E1"/>
<path d="M385.0 319.8 L396.9 325.3 L394.5 330.0 L382.7 324.5Z" fill="#20B2AA"/>
<path d="M382.7 324.5 L394.5 330.0 L393.7 331.6 L381.5 326.1Z" fill="#B0E0E6"/>
<path d="M381.5 326.1 L393.7 331.6 L392.9 333.5 L380.8 327.7Z" fill="#7396F0"/>
<path d="M386.1 285.0 L392.1 287.4 L394.5 291.3 L390.6 290.2Z" fill="#fff"/>
<path d="M427.5 298.1 L428.5 306.3 L431.4 313.4 L436.3 317.0 L443.0 317.0 L443.4 298.1Z" fill="#B0E0E6"/>
<path d="M428.9 298.1 L430.4 306.3 L433.5 312.0 L437.7 313.4 L442.9 313.4 L442.9 298.1Z" fill="#7396F0"/>
<path d="M430.4 298.1 L431.8 304.9 L434.9 309.2 L438.5 309.9 L442.0 309.2 L442.0 298.1Z" fill="#4169E1"/>
<path d="M434.2 299.2 L436.3 299.2 L436.6 306.3 L434.9 305.6Z" fill="#7396F0"/>
<path d="M443.4 297.8 L449.1 298.1 L450.5 306.3 L448.4 319.1 L443.4 319.1Z" fill="#BCEE68"/>
<path d="M443.4 319.0 L444.2 342.7 L457.6 340.3 L460.8 351.3 L469.5 349.3 L477.4 345.8 L484.5 341.9 L490.0 337.9 L485.3 327.6 L491.6 325.3 L486.9 319.7 L477.4 309.5 L453.7 309.5Z" fill="#0000CD"/>
<path d="M443.4 319.0 L444.2 342.3 L457.6 340.0 L460.0 349.3 L469.5 347.4 L480.6 343.4 L489.1 337.3 L484.7 327.6 L490.7 325.3 L486.9 319.7 L477.4 309.5 L453.7 309.5Z" fill="#4169E1"/>
<path d="M443.4 319.0 L443.9 340.8 L457.6 341.4 L467.9 343.4 L479.8 340.3 L487.8 335.1 L484.0 327.2 L489.7 325.0 L486.9 319.7 L477.4 309.5 L453.7 309.5Z" fill="#7396F0"/>
<path d="M443.4 319.0 L443.4 338.7 L455.3 339.8 L467.9 340.8 L479.0 337.6 L486.9 332.4 L483.7 326.1 L488.5 323.7 L486.1 319.7 L477.4 309.5 L453.7 309.5Z" fill="#B0E0E6"/>
<path d="M443.4 319.0 L443.4 337.1 L453.7 337.9 L466.3 338.7 L477.4 335.5 L485.3 330.8 L482.9 325.3 L487.2 322.1 L485.6 319.7 L477.4 309.5 L453.7 309.5Z" fill="#20B2AA"/>
<path d="M443.4 319.0 L443.4 334.0 L453.7 335.5 L466.3 335.5 L477.4 332.4 L483.7 327.6 L482.1 323.7 L484.5 320.5 L477.4 309.5 L453.7 309.5Z" fill="#BCEE68"/>
<path d="M449.7 328.4 L455.3 323.7 L466.3 325.3 L474.2 322.9 L479.0 323.7 L477.4 330.0 L469.5 331.6 L458.4 332.4 L452.1 331.6Z" fill="#96BE32"/>
<path d="M453.7 328.4 L458.4 325.3 L464.0 324.5 L468.7 326.1 L467.1 330.0 L460.0 330.8 L455.3 330.3Z" fill="#F5E6BE"/>
<path d="M456.1 328.4 L460.0 326.5 L464.8 327.2 L464.0 329.7 L459.2 330.3Z" fill="#DEB887"/>
<path d="M462.4 324.5 L467.1 323.7 L467.9 325.3 L464.0 326.2Z" fill="#fff"/>
<path d="M503.0 315.0 L516.6 300.8 L524.8 307.1 L511.4 322.9Z" fill="#0000CD"/>
<path d="M503.0 315.0 L516.6 300.8 L524.0 306.5 L510.5 322.1Z" fill="#4169E1"/>
<path d="M503.0 315.0 L516.6 300.8 L522.9 305.7 L509.4 321.1Z" fill="#7396F0"/>
<path d="M503.0 315.0 L516.6 300.8 L522.0 305.0 L508.5 320.2Z" fill="#B0E0E6"/>
<path d="M503.0 315.0 L516.6 300.8 L521.1 304.3 L507.6 319.4Z" fill="#20B2AA"/>
<path d="M503.0 315.0 L516.6 300.8 L519.4 303.0 L505.9 317.8Z" fill="#BCEE68"/>
<path d="M508.2 304.4 L513.7 303.5 L514.5 306.3 L509.8 307.9Z" fill="#96BE32"/>
<path d="M437.1 163.4 L445.8 162.6 L450.5 166.6 L445.8 169.0 L441.1 169.0 L437.9 167.4Z" fill="#B0E0E6"/>
<path d="M466.7 156.3 L475.8 159.5 L472.7 161.1 L466.0 158.7Z" fill="#B0E0E6"/>
<path d="M449.0 163.4 L455.3 163.9 L464.0 165.8 L483.7 166.6 L484.5 173.7 L482.9 178.4 L475.8 177.6 L466.3 176.9 L455.3 172.1Z" fill="#BCEE68"/>
<path d="M465.1 165.0 L466.7 156.3 L487.7 165.8 L485.6 169.7 L477.4 165.8Z" fill="#20B2AA"/>
<path d="M466.0 158.7 L467.0 156.0 L476.1 159.8 L473.4 161.4Z" fill="#B0E0E6"/>
<path d="M468.7 169.0 L473.4 166.6 L480.6 168.2 L482.4 173.7 L479.8 176.1 L472.7 175.3 L469.5 172.1Z" fill="#96BE32"/>
<path d="M473.4 170.5 L477.4 169.0 L480.9 172.1 L479.3 175.0 L475.0 173.7Z" fill="#F5E6BE"/>
<path d="M494.0 172.1 L509.0 184.0 L505.8 187.9 L497.9 186.7 L493.2 182.9 L490.0 181.6Z" fill="#20B2AA"/>
<path d="M489.7 176.1 L494.0 172.4 L494.8 180.0 L492.4 182.4 L488.5 181.6Z" fill="#BCEE68"/>
<path d="M482.9 176.9 L486.9 178.4 L489.2 181.3 L485.3 182.4 L483.4 180.0Z" fill="#DEB887"/>
<path d="M484.5 179.2 L487.2 178.8 L488.8 181.3 L485.3 183.2Z" fill="#F5E6BE"/>
<path d="M509.8 184.0 L516.1 191.9 L524.8 185.5 L517.7 177.6Z" fill="#0000CD"/>
<path d="M509.8 184.0 L516.1 191.9 L523.0 186.8 L516.1 178.9Z" fill="#4169E1"/>
<path d="M509.8 184.0 L516.1 191.9 L520.9 188.4 L514.1 180.5Z" fill="#7396F0"/>
<path d="M509.8 184.0 L516.1 191.9 L518.7 190.0 L512.1 182.1Z" fill="#B0E0E6"/>
<path d="M510.7 186.6 L514.9 192.4 L520.7 200.7 L525.7 211.5 L529.0 223.1 L529.0 231.4 L523.2 234.7 L514.9 226.4 L507.4 219.8 L516.5 213.1 L513.2 203.2 L511.6 194.9Z" fill="#20B2AA"/>
<path d="M512.4 198.2 L519.0 198.5 L525.7 211.5 L518.2 212.3 L514.1 205.7Z" fill="#7396F0"/>
<path d="M517.4 211.5 L526.2 210.6 L529.0 223.1 L524.8 224.7 L520.7 219.8 L523.2 215.6Z" fill="#B0E0E6"/>
<path d="M524.8 214.8 L527.3 216.4 L528.5 221.4 L525.7 220.6Z" fill="#4169E1"/>
<path d="M525.7 228.1 L529.8 243.0 L530.6 259.6 L525.7 276.2 L520.7 286.1 L514.9 292.7 L524.8 301.0 L530.6 296.9 L537.3 279.5 L541.4 262.9 L543.1 244.6 L540.6 225.6Z" fill="#4169E1"/>
<path d="M525.7 228.1 L529.8 243.0 L530.6 259.6 L525.7 276.2 L520.7 286.1 L514.9 292.7 L523.3 299.8 L529.1 295.3 L535.5 279.0 L539.8 262.4 L541.1 244.4 L538.3 225.9Z" fill="#7396F0"/>
<path d="M525.7 228.1 L529.8 243.0 L530.6 259.6 L525.7 276.2 L520.7 286.1 L514.9 292.7 L521.8 298.5 L527.7 293.7 L533.8 278.5 L538.2 261.9 L539.1 244.1 L536.1 226.3Z" fill="#B0E0E6"/>
<path d="M525.7 228.1 L529.8 243.0 L530.6 259.6 L525.7 276.2 L520.7 286.1 L514.9 292.7 L520.7 297.6 L526.5 292.4 L532.4 278.1 L536.9 261.5 L537.5 243.9 L534.3 226.6Z" fill="#20B2AA"/>
<path d="M525.7 228.1 L533.5 228.4 L536.4 236.3 L533.5 243.0 L529.8 243.0Z" fill="#BCEE68"/>
<path d="M527.3 230.5 L532.3 231.0 L533.5 236.3 L531.5 241.3 L528.5 240.5Z" fill="#96BE32"/>
<path d="M529.8 251.3 L534.8 252.9 L537.3 259.6 L534.0 265.4 L530.3 262.9Z" fill="#BCEE68"/>
<path d="M530.8 254.6 L534.1 256.2 L534.8 260.4 L532.3 262.9 L530.8 260.4Z" fill="#96BE32"/>
<path d="M514.9 292.7 L520.7 286.1 L525.7 286.1 L524.8 292.7 L519.0 296.1Z" fill="#BCEE68"/>
<path d="M538.1 276.2 L534.8 289.4 L530.6 296.9 L528.5 295.2 L533.5 286.1 L536.4 276.2Z" fill="#0000CD"/>
<path d="M526.8 243.0 L530.6 243.0 L531.1 259.6 L527.3 259.6Z" fill="#fff"/>
<path d="M430.0 169.7 L429.3 171.3 L426.1 170.5 L424.5 173.7 L421.4 173.7 L419.8 176.1 L418.2 180.8 L414.2 185.5 L411.1 189.5 L409.5 194.2 L407.9 202.1 L407.9 208.5 L405.6 213.2 L400.0 217.1 L393.7 219.5 L389.0 222.7 L387.4 226.6 L385.0 221.1 L381.9 218.7 L379.5 214.8 L375.5 212.4 L371.3 211.6 L367.5 210.0 L363.7 209.1 L359.9 208.4 L356.7 209.1 L353.6 207.2 L351.0 204.6 L349.1 201.5 L346.6 198.3 L346.9 194.5 L348.2 191.4 L346.9 186.0 L346.0 185.2 L345.0 186.0 L344.1 190.1 L343.8 194.5 L342.8 198.3 L342.5 201.5 L344.7 204.6 L346.1 207.8 L348.5 211.6 L349.8 214.1 L351.7 212.9 L355.5 211.6 L358.0 213.5 L358.6 216.7 L354.8 218.5 L354.2 220.4 L359.9 221.1 L361.8 224.2 L362.4 228.0 L363.5 229.1 L367.0 231.1 L366.2 233.0 L368.2 233.4 L367.0 237.4 L366.6 243.7 L366.2 247.0 L366.9 247.9 L363.7 255.8 L366.9 257.4 L369.2 255.0 L371.6 257.4 L374.8 256.6 L376.3 261.3 L374.8 265.3 L377.9 268.4 L381.1 272.4 L377.9 277.1 L380.3 281.9 L384.2 281.9 L387.4 279.5 L391.3 280.3 L390.6 285.8 L394.5 289.0 L399.2 290.6 L404.8 291.3 L407.1 287.4 L411.1 288.2 L413.5 292.9 L416.6 292.1 L415.8 287.4 L414.2 282.7 L414.2 277.1 L419.0 276.3 L422.1 271.6 L423.7 263.7 L426.1 261.3 L430.0 265.3 L434.8 270.0 L440.0 272.4 L443.4 275.5 L447.4 281.1 L449.0 287.4 L445.8 293.7 L448.2 295.3 L449.7 301.6 L448.2 307.9 L445.8 313.5 L446.6 318.2 L450.5 320.6 L455.3 321.4 L458.4 319.0 L461.6 322.9 L467.9 322.1 L475.8 321.4 L480.6 319.0 L486.9 319.8 L493.2 317.4 L499.5 314.2 L504.2 311.1 L507.4 306.4 L504.2 304.8 L509.0 303.2 L509.8 299.2 L512.9 296.1 L514.5 292.1 L517.7 288.2 L522.4 285.0 L521.6 281.1 L522.4 274.8 L525.6 270.0 L526.4 263.7 L525.6 257.4 L527.2 249.5 L526.7 240.0 L526.4 241.6 L524.0 236.1 L520.0 232.1 L516.1 228.2 L512.1 225.8 L510.6 221.9 L507.4 220.3 L512.1 217.9 L516.1 215.6 L515.3 210.0 L512.9 204.5 L511.4 199.0 L512.1 195.8 L512.1 191.1 L509.8 187.9 L505.8 187.1 L502.7 188.7 L497.9 186.3 L493.2 182.4 L487.7 182.4 L484.5 184.0 L482.9 180.0 L481.3 176.1 L479.0 178.4 L475.8 176.9 L467.9 176.1 L461.6 173.7 L455.3 171.3 L447.4 169.0 L441.1 169.0 L436.3 172.9 L432.4 172.1 L430.8 169.3Z" fill="#fff" stroke="#000" stroke-width="1.0" stroke-linejoin="round"/>
<path d="M420.3 284.2 L422.1 283.0 L422.8 285.8 L421.2 288.3 L419.6 287.1Z" fill="#fff" stroke="#000" stroke-width="0.8" stroke-linejoin="round"/>
<path d="M363.5 229.1 L368.2 225.9 L369.0 221.6 L366.6 219.2 L360.3 218.3 L365.8 217.6 L369.8 219.2 L371.8 221.6 L371.4 226.3 L370.6 228.7 L367.0 231.1" fill="none" stroke="#000" stroke-width="0.8"/>
<circle cx="358.3" cy="225.9" r="1.1" fill="#fff" stroke="#000" stroke-width="0.7"/>
<path d="M348.8 163 L351 164.3" stroke="#000" stroke-width="1.2" fill="none"/>
<path d="M338.7 186.3 L339 193" stroke="#000" stroke-width="1.2" fill="none"/>
<path d="M301.4 196.3 l2.2 -3.2 l0.6 2.2 l-1.6 1.6 l-1 2.6z" fill="#fff" stroke="#000" stroke-width="0.8"/>
</g>
<g clip-path="url(#clip2)">
<path d="M190.3 641.3 L185.5 637.4 L191.1 629.5 L197.4 621.6 L205.3 613.7 L216.3 605.0 L227.4 598.7 L232.1 606.6 L240.8 603.4 L252.7 623.2 L257.4 657.9 L244.0 673.7 L240.8 680.8 L241.2 681.1 L235.7 673.2 L229.3 666.9 L225.1 666.1 L221.3 664.5 L217.5 663.6 L213.7 662.9 L210.5 663.6 L207.4 661.7 L204.8 659.1 L202.9 656.0 L200.4 652.8 L200.7 649.0 L202.0 645.9 L200.7 640.5 L199.8 639.7 L195.8 656.4 L191.8 651.6Z" fill="#BCEE68"/>
<path d="M185.5 637.4 L191.1 629.5 L197.4 621.6 L203.7 615.3 L209.2 612.1 L210.8 615.3 L206.9 620.8 L203.7 624.8 L202.1 629.5 L199.0 633.4 L195.0 636.6 L189.5 640.9Z" fill="#96BE32"/>
<path d="M201.3 617.2 L203.7 616.5 L204.0 618.4 L201.8 619.1Z" fill="#F5E6BE"/>
<path d="M191.8 642.9 L197.4 638.2 L202.1 634.2 L205.3 629.5 L208.4 624.0 L214.0 619.2 L219.5 613.7 L224.2 607.4 L226.9 599.5 L227.4 598.7 L232.1 606.6 L240.8 603.4 L252.7 623.2 L257.4 657.9 L244.0 673.7 L240.8 680.8 L241.2 681.1 L235.7 673.2 L229.3 666.9 L225.1 666.1 L221.3 664.5 L217.5 663.6 L213.7 662.9 L210.5 663.6 L207.4 661.7 L204.8 659.1 L202.9 656.0 L200.4 652.8 L200.7 649.0 L202.0 645.9 L200.7 640.5 L199.8 639.7 L195.8 656.4 L191.8 651.6Z" fill="#20B2AA"/>
<path d="M194.2 645.3 L199.0 641.3 L203.7 637.4 L207.6 632.7 L213.2 628.7 L221.1 625.5 L227.4 621.6 L232.1 616.9 L234.5 609.0 L235.3 605.3 L240.8 603.4 L252.7 623.2 L257.4 657.9 L244.0 673.7 L240.8 680.8 L241.2 681.1 L235.7 673.2 L229.3 666.9 L225.1 666.1 L221.3 664.5 L217.5 663.6 L213.7 662.9 L210.5 663.6 L207.4 661.7 L204.8 659.1 L202.9 656.0 L200.4 652.8 L200.7 649.0 L202.0 645.9 L200.7 640.5 L199.8 639.7 L195.8 656.4 L191.8 651.6Z" fill="#B0E0E6"/>
<path d="M195.8 647.7 L200.5 642.9 L205.3 639.0 L211.6 634.2 L221.1 630.3 L230.6 627.9 L240.0 625.5 L246.4 622.4 L250.3 619.2 L252.7 623.2 L257.4 657.9 L244.0 673.7 L240.8 680.8 L241.2 681.1 L235.7 673.2 L229.3 666.9 L225.1 666.1 L221.3 664.5 L217.5 663.6 L213.7 662.9 L210.5 663.6 L207.4 661.7 L204.8 659.1 L202.9 656.0 L200.4 652.8 L200.7 649.0 L202.0 645.9 L200.7 640.5 L199.8 639.7 L195.8 656.4 L191.8 651.6Z" fill="#7396F0"/>
<path d="M197.4 649.7 L202.1 645.3 L207.6 640.6 L214.8 636.6 L225.8 633.4 L235.3 631.4 L243.2 629.5 L249.5 627.1 L253.0 624.0 L257.4 657.9 L244.0 673.7 L240.8 680.8 L241.2 681.1 L235.7 673.2 L229.3 666.9 L225.1 666.1 L221.3 664.5 L217.5 663.6 L213.7 662.9 L210.5 663.6 L207.4 661.7 L204.8 659.1 L202.9 656.0 L200.4 652.8 L200.7 649.0 L202.0 645.9 L200.7 640.5 L199.8 639.7 L195.8 656.4 L191.8 651.6Z" fill="#4169E1"/>
<path d="M199.7 651.9 L203.7 647.2 L208.4 642.9 L216.3 639.0 L227.4 636.1 L240.0 635.5 L246.4 637.1 L251.1 640.9 L254.2 646.9 L257.1 657.1 L244.0 673.7 L240.8 680.8 L241.2 681.1 L235.7 673.2 L229.3 666.9 L225.1 666.1 L221.3 664.5 L217.5 663.6 L213.7 662.9 L210.5 663.6 L207.4 661.7 L204.8 659.1 L202.9 656.0 L200.4 652.8 L200.7 649.0 L202.0 645.9 L200.7 640.5 L199.8 639.7 L195.8 656.4 L191.8 651.6Z" fill="#0000CD"/>
<path d="M216.3 644.5 L227.4 639.8 L243.2 638.2 L249.5 642.1 L257.4 657.9 L244.0 673.7 L235.3 665.8 L227.4 656.4 L218.7 653.2 L214.8 648.5Z" fill="#9370DB"/>
<path d="M247.1 661.9 L250.3 663.5 L249.5 665.8 L246.4 664.2Z" fill="#0000CD"/>
<path d="M252.7 623.2 L255.4 622.4 L259.0 653.2 L257.4 657.9Z" fill="#4169E1"/>
<path d="M255.4 622.4 L259.3 621.3 L262.1 642.1 L259.8 650.0 L259.0 653.2Z" fill="#7396F0"/>
<path d="M259.3 621.3 L264.0 620.0 L265.3 634.2 L262.1 642.1Z" fill="#B0E0E6"/>
<path d="M264.0 620.0 L273.5 617.2 L274.8 629.5 L268.5 637.4 L265.3 634.2Z" fill="#20B2AA"/>
<path d="M273.5 617.2 L281.9 614.6 L281.9 626.3 L274.8 629.5Z" fill="#BCEE68"/>
<path d="M261.4 637.4 L266.1 634.2 L268.5 637.4 L263.7 645.3 L262.1 643.7Z" fill="#7396F0"/>
<path d="M260.6 636.6 L265.3 635.8 L264.5 642.9 L261.4 643.7Z" fill="#4169E1"/>
<path d="M259.0 646.9 L262.5 647.7 L261.8 654.8 L259.3 654.0Z" fill="#20B2AA"/>
<path d="M257.4 658.2 L244.5 673.4 L242.4 676.6 L249.5 672.9 L259.0 667.7 L261.8 659.5Z" fill="#fff"/>
<path d="M249.5 590.0 L254.2 588.7 L256.6 596.3 L251.9 597.9Z" fill="#20B2AA"/>
<path d="M248.9 589.2 L251.9 588.4 L253.0 591.3 L249.8 591.9Z" fill="#BCEE68"/>
<path d="M185.5 665.0 L195.8 668.2 L195.0 672.9 L184.4 669.0Z" fill="#96BE32"/>
<path d="M195.0 667.4 L197.4 668.2 L196.6 676.9 L194.5 676.1Z" fill="#BCEE68"/>
<path d="M196.6 664.2 L198.6 664.6 L198.2 676.9 L196.6 676.9Z" fill="#20B2AA"/>
<path d="M198.2 664.2 L199.7 664.6 L199.7 677.7 L198.2 676.9Z" fill="#B0E0E6"/>
<path d="M199.3 664.2 L201.3 665.0 L202.1 678.5 L199.7 677.7Z" fill="#7396F0"/>
<path d="M200.9 665.0 L203.7 665.8 L205.3 680.0 L202.1 678.5Z" fill="#4169E1"/>
<path d="M203.4 665.8 L207.6 669.0 L211.6 675.3 L214.0 691.1 L203.7 691.1 L204.5 680.0Z" fill="#0000CD"/>
<path d="M190.3 650.0 L193.4 650.8 L193.4 656.0 L191.4 655.1Z" fill="#20B2AA"/>
<path d="M193.4 650.8 L195.8 651.6 L195.8 656.7 L193.4 656.0Z" fill="#B0E0E6"/>
<path d="M203.7 680.0 L202.9 695.8 L203.7 706.9 L206.9 721.1 L210.8 736.9 L216.3 749.5 L222.7 760.6 L237.7 769.3 L243.2 762.1 L249.5 766.1 L244.0 774.0 L252.7 777.9 L265.3 780.0 L265.5 782.9 L275.8 784.5 L297.1 786.1 L297.4 777.4 L302.7 766.3 L302.7 752.1 L287.6 753.7 L275.8 750.5 L260.0 746.6 L262.0 738.0 L256.0 740.0 L249.5 738.5 L240.0 730.6 L233.7 714.8 L225.8 703.7 L225.8 680.0Z" fill="#4169E1"/>
<path d="M203.7 680.0 L202.9 695.8 L203.7 706.9 L206.9 721.1 L210.8 736.9 L211.6 736.1 L208.1 720.8 L205.0 706.9 L204.2 695.8 L205.0 680.0Z" fill="#7396F0"/>
<path d="M202.1 705.3 L203.7 706.9 L206.9 721.1 L209.2 732.1 L208.1 732.1 L205.3 721.1 L202.9 711.6Z" fill="#20B2AA"/>
<path d="M206.1 680.0 L205.3 689.5 L206.1 700.5 L209.2 710.0 L210.8 719.5 L214.0 732.1 L217.9 743.2 L220.3 752.7 L225.8 760.6 L237.7 769.3 L243.2 762.1 L249.5 766.1 L244.0 774.0 L252.7 777.9 L265.3 779.5 L265.5 780.6 L275.8 781.3 L280.5 777.4 L281.3 761.6 L279.0 753.7 L275.8 750.5 L260.0 746.6 L262.0 738.0 L256.0 740.0 L249.5 738.5 L240.0 730.6 L233.7 714.8 L225.8 703.7 L225.8 680.0Z" fill="#0000CD"/>
<path d="M212.1 737.0 L223.9 759.9 L216.3 765.3 L201.3 742.4Z" fill="#BCEE68"/>
<path d="M212.1 737.0 L223.9 759.9 L216.7 765.0 L201.9 742.1Z" fill="#20B2AA"/>
<path d="M212.1 737.0 L223.9 759.9 L218.8 763.6 L204.8 740.7Z" fill="#B0E0E6"/>
<path d="M212.1 737.0 L223.9 759.9 L220.0 762.7 L206.5 739.8Z" fill="#7396F0"/>
<path d="M212.1 737.0 L223.9 759.9 L221.2 761.9 L208.2 739.0Z" fill="#4169E1"/>
<path d="M227.4 725.0 L232.1 725.8 L234.5 734.5 L239.2 740.0 L247.9 746.4 L250.3 744.8 L259.0 746.4 L280.0 754.2 L280.0 749.5 L246.4 733.7 L232.1 721.1Z" fill="#4169E1"/>
<path d="M249.5 746.4 L262.1 749.5 L274.8 752.7 L281.1 754.6 L281.1 751.9 L268.5 747.1 L259.0 745.1Z" fill="#7396F0"/>
<path d="M262.1 747.1 L281.1 753.0 L281.1 751.1 L268.5 746.0Z" fill="#BCEE68"/>
<path d="M223.4 727.4 L226.6 725.0 L230.6 727.4 L232.1 735.3 L236.9 743.2 L240.0 747.9 L244.8 750.3 L238.5 750.3 L233.7 745.6 L227.4 739.2 L222.7 732.9Z" fill="#0000CD"/>
<path d="M210.0 683.2 L217.9 684.7 L221.1 689.5 L220.3 700.5 L217.9 707.6 L214.0 709.2 L215.5 717.9 L225.8 715.5 L227.4 721.1 L227.4 725.8 L223.4 727.4 L222.7 732.1 L227.4 738.5 L233.7 744.8 L238.5 749.5 L244.8 750.3 L249.5 747.1 L255.8 751.1 L266.9 756.6 L274.8 762.1 L275.6 768.5 L274.8 774.8 L268.5 774.8 L255.8 773.2 L247.9 770.8 L249.5 766.1 L243.2 762.1 L239.2 767.7 L232.1 762.1 L225.8 757.4 L222.7 749.5 L220.3 740.0 L217.1 732.1 L214.0 724.2 L213.2 716.3 L212.4 708.4 L208.4 700.5 L208.4 689.5Z" fill="#9370DB"/>
<path d="M243.2 762.1 L249.5 766.1 L244.0 774.0 L237.7 769.3Z" fill="#fff"/>
<path d="M214.0 709.2 L217.9 708.1 L218.2 714.0 L215.5 717.6Z" fill="#fff"/>
<path d="M283.7 753.7 L303.4 752.1 L302.7 769.5 L297.4 777.4 L297.4 786.1 L286.9 784.5 L282.1 777.4 L283.7 761.6Z" fill="#7396F0"/>
<path d="M283.7 753.7 L299.5 753.7 L300.3 775.8 L291.6 775.8 L285.3 771.1 L283.7 761.6Z" fill="#B0E0E6"/>
<path d="M283.7 753.7 L297.9 753.7 L298.7 772.7 L290.0 771.9 L285.3 767.1 L283.4 760.0Z" fill="#20B2AA"/>
<path d="M285.3 754.0 L296.3 753.7 L296.7 767.1 L291.6 767.9 L286.9 764.0 L284.5 758.4Z" fill="#BCEE68"/>
<path d="M290.8 760.0 L294.8 759.2 L295.1 764.8 L291.6 765.1Z" fill="#96BE32"/>
<path d="M297.1 752.1 L302.7 752.1 L302.7 766.3 L299.5 765.5 L297.9 758.4Z" fill="#4169E1"/>
<path d="M284.5 752.9 L286.9 752.9 L286.9 754.5 L284.5 754.5Z" fill="#F5E6BE"/>
<path d="M297.4 775.8 L307.4 774.2 L323.2 777.4 L337.4 775.0 L345.3 777.4 L340.6 788.5 L342.9 793.2 L331.1 800.3 L314.5 805.8 L312.1 794.8 L297.4 797.1Z" fill="#4169E1"/>
<path d="M297.4 789.2 L307.4 789.7 L315.3 790.8 L323.2 792.9 L331.1 790.8 L334.6 787.7 L335.5 775.8 L345.3 777.4 L340.6 788.5 L342.9 793.2 L331.1 800.3 L314.5 805.8 L312.1 794.8 L297.4 797.1Z" fill="#7396F0"/>
<path d="M297.4 792.9 L307.4 792.4 L313.7 793.2 L323.2 795.1 L332.7 793.2 L336.6 790.0 L337.4 775.8 L345.3 777.4 L340.6 788.5 L342.9 793.2 L331.1 800.3 L314.5 805.8 L312.1 794.8 L297.4 797.1Z" fill="#B0E0E6"/>
<path d="M313.7 796.7 L323.2 798.2 L332.7 796.0 L338.2 792.4 L339.8 776.6 L345.3 777.4 L340.6 788.5 L342.9 793.2 L331.1 800.3 L314.5 805.8 L312.9 797.9Z" fill="#20B2AA"/>
<path d="M314.0 800.3 L323.2 801.4 L332.7 799.5 L340.3 794.8 L342.1 777.4 L345.3 777.4 L340.6 788.5 L342.9 793.2 L331.1 800.3 L314.5 805.8Z" fill="#BCEE68"/>
<path d="M305.0 780.6 L310.6 777.4 L320.0 777.4 L324.0 780.6 L323.2 786.1 L318.5 788.8 L310.6 788.1 L305.8 785.3Z" fill="#0000CD"/>
<path d="M309.0 781.3 L313.7 779.8 L320.8 780.6 L320.0 784.5 L314.5 785.6 L309.8 784.5Z" fill="#9370DB"/>
<path d="M316.1 778.2 L320.8 778.2 L320.8 780.9 L316.6 781.3Z" fill="#fff"/>
<path d="M340.6 791.6 L343.7 792.4 L342.9 794.8 L340.9 794.5Z" fill="#F5E6BE"/>
<path d="M337.4 775.0 L339.0 775.0 L339.0 782.4 L337.7 782.1Z" fill="#F5E6BE"/>
<path d="M339.0 775.0 L341.4 775.5 L340.9 782.9 L339.0 782.4Z" fill="#FFE100"/>
<path d="M341.4 775.5 L342.9 775.8 L342.5 782.4 L340.9 782.9Z" fill="#FFA500"/>
<path d="M342.9 775.8 L344.5 776.3 L344.0 780.9 L342.5 782.4Z" fill="#FF4500"/>
<path d="M344.5 776.3 L346.1 777.4 L346.1 779.3 L344.0 780.9Z" fill="#B22222"/>
<path d="M266.8 617.2 L270.0 616.9 L284.2 615.3 L301.6 616.1 L317.4 620.0 L318.2 630.3 L317.4 637.4 L270.0 643.7 L266.8 637.4Z" fill="#20B2AA"/>
<path d="M274.7 616.9 L284.2 615.3 L290.5 616.1 L291.3 624.0 L285.8 626.3 L279.5 628.7 L276.3 626.3Z" fill="#BCEE68"/>
<path d="M283.4 619.2 L289.0 618.4 L290.5 625.5 L285.8 626.0Z" fill="#B0E0E6"/>
<path d="M289.7 615.3 L300.8 616.1 L300.0 619.2 L295.3 620.0 L290.5 618.4Z" fill="#F5E6BE"/>
<path d="M292.1 615.6 L298.4 616.1 L297.6 618.1 L293.7 618.4Z" fill="#DEB887"/>
<path d="M300.8 616.1 L303.5 616.5 L302.9 624.0 L300.8 623.2Z" fill="#BCEE68"/>
<path d="M321.3 609.3 L341.9 619.2 L336.4 631.9 L317.4 630.3 L316.3 620.3Z" fill="#B0E0E6"/>
<path d="M322.4 621.6 L323.7 615.3 L330.0 613.7 L337.9 617.6 L340.6 621.6 L337.9 629.2 L331.6 631.1 L322.1 627.1Z" fill="#7396F0"/>
<path d="M324.5 624.0 L326.1 618.4 L330.8 616.9 L336.4 620.0 L337.6 625.5 L334.8 629.5 L328.5 629.5Z" fill="#4169E1"/>
<path d="M328.8 625.1 L332.4 624.4 L334.0 627.6 L330.8 629.5 L328.5 627.9Z" fill="#0000CD"/>
<path d="M337.9 632.7 L342.7 635.0 L339.5 637.4Z" fill="#0000CD"/>
<path d="M341.9 632.7 L345.8 633.4 L344.2 636.6 L341.9 635.8Z" fill="#4169E1"/>
<path d="M343.5 635.0 L349.0 626.7 L361.6 637.4 L358.5 642.1Z" fill="#BCEE68"/>
<path d="M343.5 635.0 L349.0 626.7 L358.5 634.7 L354.7 640.4Z" fill="#20B2AA"/>
<path d="M343.5 635.0 L349.0 626.7 L355.3 632.0 L351.0 638.6Z" fill="#B0E0E6"/>
<path d="M343.5 635.0 L349.0 626.7 L353.4 630.4 L348.7 637.5Z" fill="#7396F0"/>
<path d="M343.5 635.0 L349.0 626.7 L351.5 628.8 L346.5 636.4Z" fill="#4169E1"/>
<path d="M349.0 626.7 L356.1 632.3 L355.0 633.4 L348.2 628.2Z" fill="#F5E6BE"/>
<path d="M372.4 631.8 L378.7 639.0 L370.8 646.1 L364.5 638.2Z" fill="#FFE100"/>
<path d="M375.5 635.0 L378.7 639.0 L375.5 641.8 L373.5 638.2Z" fill="#FFA500"/>
<path d="M363.7 637.7 L366.1 636.6 L366.9 639.7 L365.0 640.5Z" fill="#DEB887"/>
<path d="M366.9 646.1 L370.8 647.6 L377.1 661.1 L369.2 662.7 L366.9 654.8Z" fill="#FFE100"/>
<path d="M370.0 649.2 L372.4 650.0 L374.4 656.3 L372.4 656.0Z" fill="#FFA500"/>
<path d="M368.4 660.3 L377.6 660.8 L378.7 665.8 L369.2 665.8Z" fill="#DEB887"/>
<path d="M370.0 671.3 L380.8 670.6 L382.3 677.7 L367.6 678.1Z" fill="#F5E6BE"/>
<path d="M369.7 665.0 L379.2 665.0 L380.3 673.7 L370.8 674.5 L369.2 669.0Z" fill="#BCEE68"/>
<path d="M371.6 666.6 L377.1 667.4 L375.5 672.9 L372.4 672.1Z" fill="#96BE32"/>
<path d="M366.1 676.6 L382.7 676.1 L383.0 679.2 L366.9 679.7Z" fill="#BCEE68"/>
<path d="M367.6 678.8 L383.0 678.5 L382.7 681.3 L369.2 681.6Z" fill="#20B2AA"/>
<path d="M370.0 680.8 L381.1 680.8 L379.5 686.4 L374.0 686.4Z" fill="#B0E0E6"/>
<path d="M378.0 682.9 L381.9 691.1 L382.9 705.3 L385.4 715.8 L383.2 725.3 L379.3 737.7 L380.1 747.8 L385.0 751.3 L392.1 736.3 L394.5 725.3 L396.1 715.8 L396.9 705.3 L396.6 691.1 L393.7 679.7Z" fill="#BCEE68"/>
<path d="M378.0 682.9 L381.9 691.1 L382.9 705.3 L385.4 715.8 L383.2 725.3 L379.3 737.7 L380.1 747.8 L384.2 750.8 L390.1 736.5 L392.7 725.3 L394.4 715.8 L394.7 705.3 L394.3 691.1 L391.3 680.2Z" fill="#20B2AA"/>
<path d="M378.0 682.9 L381.9 691.1 L382.9 705.3 L385.4 715.8 L383.2 725.3 L379.3 737.7 L380.1 747.8 L383.5 750.2 L388.1 736.7 L391.0 725.3 L392.8 715.8 L392.6 705.3 L392.0 691.1 L388.8 680.7Z" fill="#B0E0E6"/>
<path d="M378.0 682.9 L381.9 691.1 L382.9 705.3 L385.4 715.8 L383.2 725.3 L379.3 737.7 L380.1 747.8 L382.6 749.6 L385.9 737.0 L389.0 725.3 L390.9 715.8 L390.1 705.3 L389.4 691.1 L386.0 681.2Z" fill="#7396F0"/>
<path d="M379.8 682.5 L383.6 691.1 L384.5 705.3 L386.6 715.8 L384.4 725.3 L380.7 737.6 L380.6 748.2 L382.0 749.2 L384.3 737.2 L387.6 725.3 L389.6 715.8 L388.4 705.3 L387.6 691.1 L384.1 681.6Z" fill="#4169E1"/>
<path d="M392.9 679.7 L395.3 679.7 L395.6 686.4 L393.7 685.6Z" fill="#F5E6BE"/>
<path d="M382.7 722.1 L392.9 723.7 L391.3 731.6 L381.4 730.8Z" fill="#20B2AA"/>
<path d="M379.5 731.6 L392.1 730.8 L389.0 740.3 L380.3 741.1 L377.9 737.9Z" fill="#BCEE68"/>
<path d="M385.8 734.0 L392.1 733.5 L390.9 739.2 L385.0 739.5Z" fill="#96BE32"/>
<path d="M388.2 736.3 L392.9 735.1 L387.4 746.6 L384.2 751.3 L383.4 747.4Z" fill="#F5E6BE"/>
<path d="M375.5 741.4 L381.4 740.3 L382.3 746.6 L377.9 747.4Z" fill="#4169E1"/>
<path d="M369.2 745.8 L374.0 746.1 L372.4 750.6 L369.7 749.8Z" fill="#4169E1"/>
<path d="M369.2 755.3 L377.9 760.8 L358.2 769.5Z" fill="#4169E1"/>
<path d="M363.7 762.4 L375.5 759.2 L377.9 760.8 L358.2 769.5Z" fill="#7396F0"/>
<path d="M362.1 764.8 L376.7 760.0 L377.9 760.8 L358.2 769.5Z" fill="#20B2AA"/>
<path d="M360.2 767.1 L377.3 760.7 L377.9 760.8 L358.2 769.5Z" fill="#BCEE68"/>
<path d="M358.2 769.5 L377.9 760.8 L376.0 763.5 L359.3 770.8Z" fill="#F5E6BE"/>
<path d="M359.3 770.8 L376.0 763.5 L374.4 765.6 L360.2 772.0Z" fill="#DEB887"/>
<path d="M360.2 772.0 L374.4 765.6 L365.3 777.4Z" fill="#FFE100"/>
<path d="M362.9 774.6 L368.1 773.6 L365.3 777.4Z" fill="#FFA500"/>
<path d="M283.8 624.2 L283.1 625.8 L279.9 625.0 L278.3 628.2 L275.2 628.2 L273.6 630.6 L272.0 635.3 L268.0 640.0 L264.9 644.0 L263.3 648.7 L261.7 656.6 L261.7 663.0 L259.4 667.7 L253.8 671.6 L247.5 674.0 L242.8 677.2 L241.2 681.1 L238.8 675.6 L235.7 673.2 L233.3 669.3 L229.3 666.9 L225.1 666.1 L221.3 664.5 L217.5 663.6 L213.7 662.9 L210.5 663.6 L207.4 661.7 L204.8 659.1 L202.9 656.0 L200.4 652.8 L200.7 649.0 L202.0 645.9 L200.7 640.5 L199.8 639.7 L198.8 640.5 L197.9 644.6 L197.6 649.0 L196.6 652.8 L196.3 656.0 L198.5 659.1 L199.9 662.3 L202.3 666.1 L203.6 668.6 L205.5 667.4 L209.3 666.1 L211.8 668.0 L212.4 671.2 L208.6 673.0 L208.0 674.9 L213.7 675.6 L215.6 678.7 L216.2 682.5 L217.3 683.6 L220.8 685.6 L220.0 687.5 L222.0 687.9 L220.8 691.9 L220.4 698.2 L220.0 701.5 L220.7 702.4 L217.5 710.3 L220.7 711.9 L223.0 709.5 L225.4 711.9 L228.6 711.1 L230.1 715.8 L228.6 719.8 L231.7 722.9 L234.9 726.9 L231.7 731.6 L234.1 736.4 L238.0 736.4 L241.2 734.0 L245.1 734.8 L244.4 740.3 L248.3 743.5 L253.0 745.1 L258.6 745.8 L260.9 741.9 L264.9 742.7 L267.3 747.4 L270.4 746.6 L269.6 741.9 L268.0 737.2 L268.0 731.6 L272.8 730.8 L275.9 726.1 L277.5 718.2 L279.9 715.8 L283.8 719.8 L288.6 724.5 L293.8 726.9 L297.2 730.0 L301.2 735.6 L302.8 741.9 L299.6 748.2 L302.0 749.8 L303.5 756.1 L302.0 762.4 L299.6 768.0 L300.4 772.7 L304.3 775.1 L309.1 775.9 L312.2 773.5 L315.4 777.4 L321.7 776.6 L329.6 775.9 L334.4 773.5 L340.7 774.3 L347.0 771.9 L353.3 768.7 L358.0 765.6 L361.2 760.9 L358.0 759.3 L362.8 757.7 L363.6 753.7 L366.7 750.6 L368.3 746.6 L371.5 742.7 L376.2 739.5 L375.4 735.6 L376.2 729.3 L379.4 724.5 L380.2 718.2 L379.4 711.9 L381.0 704.0 L380.5 694.5 L380.2 696.1 L377.8 690.6 L373.8 686.6 L369.9 682.7 L365.9 680.3 L364.4 676.4 L361.2 674.8 L365.9 672.4 L369.9 670.1 L369.1 664.5 L366.7 659.0 L365.2 653.5 L365.9 650.3 L365.9 645.6 L363.6 642.4 L359.6 641.6 L356.5 643.2 L351.7 640.8 L347.0 636.9 L341.5 636.9 L338.3 638.5 L336.7 634.5 L335.1 630.6 L332.8 632.9 L329.6 631.4 L321.7 630.6 L315.4 628.2 L309.1 625.8 L301.2 623.5 L294.9 623.5 L290.1 627.4 L286.2 626.6 L284.6 623.8Z" fill="#fff" stroke="#000" stroke-width="1.0" stroke-linejoin="round"/>
<path d="M274.1 738.7 L275.9 737.5 L276.6 740.3 L275.0 742.8 L273.4 741.6Z" fill="#fff" stroke="#000" stroke-width="0.8" stroke-linejoin="round"/>
<path d="M217.3 683.6 L222.0 680.4 L222.8 676.1 L220.4 673.7 L214.1 672.8 L219.6 672.1 L223.6 673.7 L225.6 676.1 L225.2 680.8 L224.4 683.2 L220.8 685.6" fill="none" stroke="#000" stroke-width="0.8"/>
<circle cx="212.1" cy="680.4" r="1.1" fill="#fff" stroke="#000" stroke-width="0.7"/>
<path d="M202.5 617.8 L204.8 619" stroke="#000" stroke-width="1.2" fill="none"/>
<path d="M192.5 640.8 L192.8 647.5" stroke="#000" stroke-width="1.2" fill="none"/>
<path d="M155.2 650.8 l2.2 -3.2 l0.6 2.2 l-1.6 1.6 l-1 2.6z" fill="#fff" stroke="#000" stroke-width="0.8"/>
</g>
<circle cx="142.4" cy="246.3" r="141.5" fill="none" stroke="#111" stroke-width="1"/>
<circle cx="434.0" cy="246.3" r="141.5" fill="none" stroke="#111" stroke-width="1"/>
<circle cx="287.8" cy="700.8" r="141.5" fill="none" stroke="#111" stroke-width="1"/>
<text x="263.2" y="19.4" style="font-family:'Liberation Sans',Arial,Helvetica,sans-serif;font-weight:bold;font-size:27.20px" textLength="48.6" lengthAdjust="spacingAndGlyphs">DJF</text>
<text x="142.1" y="44.8" style="font-family:'Liberation Sans',Arial,Helvetica,sans-serif;font-weight:bold;font-size:15.70px" text-anchor="middle">b01.01ibis (yrs 475-499)</text>
<text x="434.3" y="46.3" style="font-family:'Liberation Sans',Arial,Helvetica,sans-serif;font-weight:bold;font-size:15.60px" text-anchor="middle">HadISST</text>
<text x="0.4" y="87.4" style="font-family:'Liberation Sans',Arial,Helvetica,sans-serif;font-weight:bold;font-size:13.75px">Sea ice concentration</text>
<text x="284.8" y="87.4" style="font-family:'Liberation Sans',Arial,Helvetica,sans-serif;font-weight:bold;font-size:13.90px" text-anchor="end">%</text>
<text x="292.2" y="87.4" style="font-family:'Liberation Sans',Arial,Helvetica,sans-serif;font-weight:bold;font-size:13.75px">Sea ice concentration</text>
<text x="576.5" y="87.4" style="font-family:'Liberation Sans',Arial,Helvetica,sans-serif;font-weight:bold;font-size:13.90px" text-anchor="end">%</text>
<text x="287.9" y="501.3" style="font-family:'Liberation Sans',Arial,Helvetica,sans-serif;font-weight:bold;font-size:15.60px" text-anchor="middle">b01.01ibis - HadISST</text>
<text x="146.2" y="542.0" style="font-family:'Liberation Sans',Arial,Helvetica,sans-serif;font-weight:bold;font-size:13.75px">Sea ice concentration</text>
<text x="431.2" y="542.0" style="font-family:'Liberation Sans',Arial,Helvetica,sans-serif;font-weight:bold;font-size:13.90px" text-anchor="end">%</text>
<rect x="4.70" y="428.40" width="17.18" height="13.40" fill="#9370DB" stroke="#000" stroke-width="0.7"/>
<rect x="21.88" y="428.40" width="17.18" height="13.40" fill="#0000CD" stroke="#000" stroke-width="0.7"/>
<rect x="39.06" y="428.40" width="17.18" height="13.40" fill="#4169E1" stroke="#000" stroke-width="0.7"/>
<rect x="56.24" y="428.40" width="17.18" height="13.40" fill="#7396F0" stroke="#000" stroke-width="0.7"/>
<rect x="73.42" y="428.40" width="17.18" height="13.40" fill="#B0E0E6" stroke="#000" stroke-width="0.7"/>
<rect x="90.60" y="428.40" width="17.18" height="13.40" fill="#20B2AA" stroke="#000" stroke-width="0.7"/>
<rect x="107.78" y="428.40" width="17.18" height="13.40" fill="#BCEE68" stroke="#000" stroke-width="0.7"/>
<rect x="124.96" y="428.40" width="17.18" height="13.40" fill="#96BE32" stroke="#000" stroke-width="0.7"/>
<rect x="142.14" y="428.40" width="17.18" height="13.40" fill="#F5E6BE" stroke="#000" stroke-width="0.7"/>
<rect x="159.32" y="428.40" width="17.18" height="13.40" fill="#DEB887" stroke="#000" stroke-width="0.7"/>
<rect x="176.50" y="428.40" width="17.18" height="13.40" fill="#FFE100" stroke="#000" stroke-width="0.7"/>
<rect x="193.68" y="428.40" width="17.18" height="13.40" fill="#FFA500" stroke="#000" stroke-width="0.7"/>
<rect x="210.86" y="428.40" width="17.18" height="13.40" fill="#FF4500" stroke="#000" stroke-width="0.7"/>
<rect x="228.04" y="428.40" width="17.18" height="13.40" fill="#B22222" stroke="#000" stroke-width="0.7"/>
<rect x="245.22" y="428.40" width="17.18" height="13.40" fill="#FFB6C1" stroke="#000" stroke-width="0.7"/>
<rect x="262.40" y="428.40" width="17.18" height="13.40" fill="#FF1493" stroke="#000" stroke-width="0.7"/>
<text x="21.9" y="457.9" style="font-family:'DejaVu Serif','Liberation Serif',serif;font-size:10.60px" text-anchor="middle">1</text>
<text x="39.1" y="457.9" style="font-family:'DejaVu Serif','Liberation Serif',serif;font-size:10.60px" text-anchor="middle">5</text>
<text x="56.2" y="457.9" style="font-family:'DejaVu Serif','Liberation Serif',serif;font-size:10.60px" text-anchor="middle">10</text>
<text x="73.4" y="457.9" style="font-family:'DejaVu Serif','Liberation Serif',serif;font-size:10.60px" text-anchor="middle">15</text>
<text x="90.6" y="457.9" style="font-family:'DejaVu Serif','Liberation Serif',serif;font-size:10.60px" text-anchor="middle">20</text>
<text x="107.8" y="457.9" style="font-family:'DejaVu Serif','Liberation Serif',serif;font-size:10.60px" text-anchor="middle">30</text>
<text x="125.0" y="457.9" style="font-family:'DejaVu Serif','Liberation Serif',serif;font-size:10.60px" text-anchor="middle">40</text>
<text x="142.1" y="457.9" style="font-family:'DejaVu Serif','Liberation Serif',serif;font-size:10.60px" text-anchor="middle">50</text>
<text x="159.3" y="457.9" style="font-family:'DejaVu Serif','Liberation Serif',serif;font-size:10.60px" text-anchor="middle">60</text>
<text x="176.5" y="457.9" style="font-family:'DejaVu Serif','Liberation Serif',serif;font-size:10.60px" text-anchor="middle">70</text>
<text x="193.7" y="457.9" style="font-family:'DejaVu Serif','Liberation Serif',serif;font-size:10.60px" text-anchor="middle">80</text>
<text x="210.9" y="457.9" style="font-family:'DejaVu Serif','Liberation Serif',serif;font-size:10.60px" text-anchor="middle">85</text>
<text x="228.0" y="457.9" style="font-family:'DejaVu Serif','Liberation Serif',serif;font-size:10.60px" text-anchor="middle">90</text>
<text x="245.2" y="457.9" style="font-family:'DejaVu Serif','Liberation Serif',serif;font-size:10.60px" text-anchor="middle">95</text>
<text x="262.4" y="457.9" style="font-family:'DejaVu Serif','Liberation Serif',serif;font-size:10.60px" text-anchor="middle">97</text>
<rect x="296.30" y="428.40" width="17.18" height="13.40" fill="#9370DB" stroke="#000" stroke-width="0.7"/>
<rect x="313.48" y="428.40" width="17.18" height="13.40" fill="#0000CD" stroke="#000" stroke-width="0.7"/>
<rect x="330.66" y="428.40" width="17.18" height="13.40" fill="#4169E1" stroke="#000" stroke-width="0.7"/>
<rect x="347.84" y="428.40" width="17.18" height="13.40" fill="#7396F0" stroke="#000" stroke-width="0.7"/>
<rect x="365.02" y="428.40" width="17.18" height="13.40" fill="#B0E0E6" stroke="#000" stroke-width="0.7"/>
<rect x="382.20" y="428.40" width="17.18" height="13.40" fill="#20B2AA" stroke="#000" stroke-width="0.7"/>
<rect x="399.38" y="428.40" width="17.18" height="13.40" fill="#BCEE68" stroke="#000" stroke-width="0.7"/>
<rect x="416.56" y="428.40" width="17.18" height="13.40" fill="#96BE32" stroke="#000" stroke-width="0.7"/>
<rect x="433.74" y="428.40" width="17.18" height="13.40" fill="#F5E6BE" stroke="#000" stroke-width="0.7"/>
<rect x="450.92" y="428.40" width="17.18" height="13.40" fill="#DEB887" stroke="#000" stroke-width="0.7"/>
<rect x="468.10" y="428.40" width="17.18" height="13.40" fill="#FFE100" stroke="#000" stroke-width="0.7"/>
<rect x="485.28" y="428.40" width="17.18" height="13.40" fill="#FFA500" stroke="#000" stroke-width="0.7"/>
<rect x="502.46" y="428.40" width="17.18" height="13.40" fill="#FF4500" stroke="#000" stroke-width="0.7"/>
<rect x="519.64" y="428.40" width="17.18" height="13.40" fill="#B22222" stroke="#000" stroke-width="0.7"/>
<rect x="536.82" y="428.40" width="17.18" height="13.40" fill="#FFB6C1" stroke="#000" stroke-width="0.7"/>
<rect x="554.00" y="428.40" width="17.18" height="13.40" fill="#FF1493" stroke="#000" stroke-width="0.7"/>
<text x="313.5" y="457.9" style="font-family:'DejaVu Serif','Liberation Serif',serif;font-size:10.60px" text-anchor="middle">1</text>
<text x="330.7" y="457.9" style="font-family:'DejaVu Serif','Liberation Serif',serif;font-size:10.60px" text-anchor="middle">5</text>
<text x="347.8" y="457.9" style="font-family:'DejaVu Serif','Liberation Serif',serif;font-size:10.60px" text-anchor="middle">10</text>
<text x="365.0" y="457.9" style="font-family:'DejaVu Serif','Liberation Serif',serif;font-size:10.60px" text-anchor="middle">15</text>
<text x="382.2" y="457.9" style="font-family:'DejaVu Serif','Liberation Serif',serif;font-size:10.60px" text-anchor="middle">20</text>
<text x="399.4" y="457.9" style="font-family:'DejaVu Serif','Liberation Serif',serif;font-size:10.60px" text-anchor="middle">30</text>
<text x="416.6" y="457.9" style="font-family:'DejaVu Serif','Liberation Serif',serif;font-size:10.60px" text-anchor="middle">40</text>
<text x="433.7" y="457.9" style="font-family:'DejaVu Serif','Liberation Serif',serif;font-size:10.60px" text-anchor="middle">50</text>
<text x="450.9" y="457.9" style="font-family:'DejaVu Serif','Liberation Serif',serif;font-size:10.60px" text-anchor="middle">60</text>
<text x="468.1" y="457.9" style="font-family:'DejaVu Serif','Liberation Serif',serif;font-size:10.60px" text-anchor="middle">70</text>
<text x="485.3" y="457.9" style="font-family:'DejaVu Serif','Liberation Serif',serif;font-size:10.60px" text-anchor="middle">80</text>
<text x="502.5" y="457.9" style="font-family:'DejaVu Serif','Liberation Serif',serif;font-size:10.60px" text-anchor="middle">85</text>
<text x="519.6" y="457.9" style="font-family:'DejaVu Serif','Liberation Serif',serif;font-size:10.60px" text-anchor="middle">90</text>
<text x="536.8" y="457.9" style="font-family:'DejaVu Serif','Liberation Serif',serif;font-size:10.60px" text-anchor="middle">95</text>
<text x="554.0" y="457.9" style="font-family:'DejaVu Serif','Liberation Serif',serif;font-size:10.60px" text-anchor="middle">97</text>
<text x="3.0" y="419.0" style="font-family:'DejaVu Serif','Liberation Serif',serif;font-size:11.80px" textLength="44.0" lengthAdjust="spacingAndGlyphs">MEAN=</text>
<text x="94.5" y="419.0" style="font-family:'DejaVu Serif','Liberation Serif',serif;font-size:11.80px" text-anchor="end" textLength="27.4" lengthAdjust="spacingAndGlyphs">8.14</text>
<text x="107.3" y="419.0" style="font-family:'DejaVu Serif','Liberation Serif',serif;font-size:11.80px" textLength="31.5" lengthAdjust="spacingAndGlyphs">Min=</text>
<text x="186.5" y="419.0" style="font-family:'DejaVu Serif','Liberation Serif',serif;font-size:11.80px" text-anchor="end" textLength="27.4" lengthAdjust="spacingAndGlyphs">0.00</text>
<text x="198.6" y="419.0" style="font-family:'DejaVu Serif','Liberation Serif',serif;font-size:11.80px" textLength="35.0" lengthAdjust="spacingAndGlyphs">Max=</text>
<text x="281.6" y="419.0" style="font-family:'DejaVu Serif','Liberation Serif',serif;font-size:11.80px" text-anchor="end" textLength="35.3" lengthAdjust="spacingAndGlyphs">57.15</text>
<text x="294.6" y="419.0" style="font-family:'DejaVu Serif','Liberation Serif',serif;font-size:11.80px" textLength="44.0" lengthAdjust="spacingAndGlyphs">MEAN=</text>
<text x="386.1" y="419.0" style="font-family:'DejaVu Serif','Liberation Serif',serif;font-size:11.80px" text-anchor="end" textLength="35.3" lengthAdjust="spacingAndGlyphs">29.30</text>
<text x="398.9" y="419.0" style="font-family:'DejaVu Serif','Liberation Serif',serif;font-size:11.80px" textLength="31.5" lengthAdjust="spacingAndGlyphs">Min=</text>
<text x="478.1" y="419.0" style="font-family:'DejaVu Serif','Liberation Serif',serif;font-size:11.80px" text-anchor="end" textLength="27.4" lengthAdjust="spacingAndGlyphs">0.02</text>
<text x="490.2" y="419.0" style="font-family:'DejaVu Serif','Liberation Serif',serif;font-size:11.80px" textLength="35.0" lengthAdjust="spacingAndGlyphs">Max=</text>
<text x="573.2" y="419.0" style="font-family:'DejaVu Serif','Liberation Serif',serif;font-size:11.80px" text-anchor="end" textLength="35.3" lengthAdjust="spacingAndGlyphs">95.60</text>
<rect x="509.30" y="825.00" width="33.70" height="14.20" fill="#9370DB" stroke="#000" stroke-width="0.7"/>
<rect x="509.30" y="810.80" width="33.70" height="14.20" fill="#0000CD" stroke="#000" stroke-width="0.7"/>
<rect x="509.30" y="796.60" width="33.70" height="14.20" fill="#4169E1" stroke="#000" stroke-width="0.7"/>
<rect x="509.30" y="782.40" width="33.70" height="14.20" fill="#7396F0" stroke="#000" stroke-width="0.7"/>
<rect x="509.30" y="768.20" width="33.70" height="14.20" fill="#B0E0E6" stroke="#000" stroke-width="0.7"/>
<rect x="509.30" y="754.00" width="33.70" height="14.20" fill="#20B2AA" stroke="#000" stroke-width="0.7"/>
<rect x="509.30" y="739.80" width="33.70" height="14.20" fill="#BCEE68" stroke="#000" stroke-width="0.7"/>
<rect x="509.30" y="725.60" width="33.70" height="14.20" fill="#96BE32" stroke="#000" stroke-width="0.7"/>
<rect x="509.30" y="711.40" width="33.70" height="14.20" fill="#F5E6BE" stroke="#000" stroke-width="0.7"/>
<rect x="509.30" y="697.20" width="33.70" height="14.20" fill="#DEB887" stroke="#000" stroke-width="0.7"/>
<rect x="509.30" y="683.00" width="33.70" height="14.20" fill="#FFE100" stroke="#000" stroke-width="0.7"/>
<rect x="509.30" y="668.80" width="33.70" height="14.20" fill="#FFA500" stroke="#000" stroke-width="0.7"/>
<rect x="509.30" y="654.60" width="33.70" height="14.20" fill="#FF4500" stroke="#000" stroke-width="0.7"/>
<rect x="509.30" y="640.40" width="33.70" height="14.20" fill="#B22222" stroke="#000" stroke-width="0.7"/>
<rect x="509.30" y="626.20" width="33.70" height="14.20" fill="#FFB6C1" stroke="#000" stroke-width="0.7"/>
<rect x="509.30" y="612.00" width="33.70" height="14.20" fill="#FF1493" stroke="#000" stroke-width="0.7"/>
<text x="559.0" y="829.5" style="font-family:'DejaVu Serif','Liberation Serif',serif;font-size:10.60px" text-anchor="middle">−40</text>
<text x="559.0" y="815.3" style="font-family:'DejaVu Serif','Liberation Serif',serif;font-size:10.60px" text-anchor="middle">−30</text>
<text x="559.0" y="801.1" style="font-family:'DejaVu Serif','Liberation Serif',serif;font-size:10.60px" text-anchor="middle">−20</text>
<text x="559.0" y="786.9" style="font-family:'DejaVu Serif','Liberation Serif',serif;font-size:10.60px" text-anchor="middle">−15</text>
<text x="559.0" y="772.7" style="font-family:'DejaVu Serif','Liberation Serif',serif;font-size:10.60px" text-anchor="middle">−10</text>
<text x="559.0" y="758.5" style="font-family:'DejaVu Serif','Liberation Serif',serif;font-size:10.60px" text-anchor="middle">−5</text>
<text x="559.0" y="744.3" style="font-family:'DejaVu Serif','Liberation Serif',serif;font-size:10.60px" text-anchor="middle">−2</text>
<text x="559.0" y="730.1" style="font-family:'DejaVu Serif','Liberation Serif',serif;font-size:10.60px" text-anchor="middle">0</text>
<text x="559.0" y="715.9" style="font-family:'DejaVu Serif','Liberation Serif',serif;font-size:10.60px" text-anchor="middle">2</text>
<text x="559.0" y="701.7" style="font-family:'DejaVu Serif','Liberation Serif',serif;font-size:10.60px" text-anchor="middle">5</text>
<text x="559.0" y="687.5" style="font-family:'DejaVu Serif','Liberation Serif',serif;font-size:10.60px" text-anchor="middle">10</text>
<text x="559.0" y="673.3" style="font-family:'DejaVu Serif','Liberation Serif',serif;font-size:10.60px" text-anchor="middle">15</text>
<text x="559.0" y="659.1" style="font-family:'DejaVu Serif','Liberation Serif',serif;font-size:10.60px" text-anchor="middle">20</text>
<text x="559.0" y="644.9" style="font-family:'DejaVu Serif','Liberation Serif',serif;font-size:10.60px" text-anchor="middle">30</text>
<text x="559.0" y="630.7" style="font-family:'DejaVu Serif','Liberation Serif',serif;font-size:10.60px" text-anchor="middle">40</text>
<text x="446.7" y="587.4" style="font-family:'DejaVu Serif','Liberation Serif',serif;font-size:11.80px" textLength="22.5" lengthAdjust="spacingAndGlyphs">MIN</text>
<text x="476.6" y="587.4" style="font-family:'DejaVu Serif','Liberation Serif',serif;font-size:11.80px" textLength="8.6" lengthAdjust="spacingAndGlyphs">=</text>
<text x="493.4" y="587.4" style="font-family:'DejaVu Serif','Liberation Serif',serif;font-size:11.80px" textLength="43.8" lengthAdjust="spacingAndGlyphs">−72.80</text>
<text x="544.3" y="587.4" style="font-family:'DejaVu Serif','Liberation Serif',serif;font-size:11.80px" textLength="25.5" lengthAdjust="spacingAndGlyphs">MAX</text>
<text x="577.2" y="587.4" style="font-family:'DejaVu Serif','Liberation Serif',serif;font-size:11.80px" textLength="8.6" lengthAdjust="spacingAndGlyphs">=</text>
<text x="598.5" y="587.4" style="font-family:'DejaVu Serif','Liberation Serif',serif;font-size:11.80px" textLength="35.5" lengthAdjust="spacingAndGlyphs">27.76</text>
</svg>
</body></html>
